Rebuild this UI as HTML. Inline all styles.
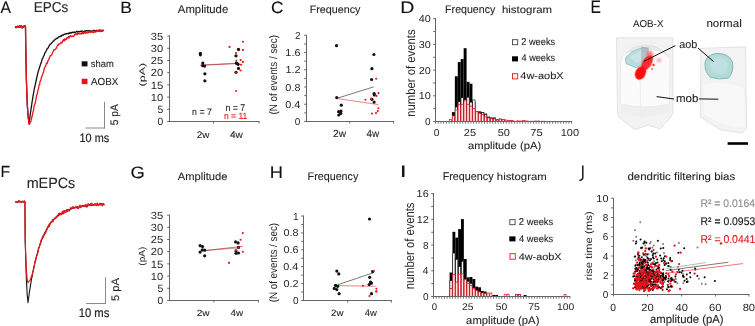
<!DOCTYPE html>
<html><head><meta charset="utf-8"><style>
html,body{margin:0;padding:0;background:#fff;}
body{width:755px;height:326px;overflow:hidden;}
svg{display:block;will-change:transform;text-rendering:geometricPrecision;font-family:"Liberation Sans", sans-serif;}
</style></head><body>
<svg width="755" height="326" viewBox="0 0 755 326">
<rect width="755" height="326" fill="#fff"/>
<text x="0.56" y="12.60" font-size="16.58" fill="#111" stroke="#111" stroke-width="0.1" textLength="10.47" lengthAdjust="spacingAndGlyphs">A</text>
<text x="120.26" y="12.50" font-size="16.44" fill="#111" stroke="#111" stroke-width="0.1" textLength="11.65" lengthAdjust="spacingAndGlyphs">B</text>
<text x="271.14" y="12.90" font-size="16.34" fill="#111" stroke="#111" stroke-width="0.1" textLength="12.45" lengthAdjust="spacingAndGlyphs">C</text>
<text x="400.28" y="12.90" font-size="16.58" fill="#111" stroke="#111" stroke-width="0.1" textLength="14.14" lengthAdjust="spacingAndGlyphs">D</text>
<text x="590.41" y="12.90" font-size="18.18" fill="#111" stroke="#111" stroke-width="0.1" textLength="10.45" lengthAdjust="spacingAndGlyphs">E</text>
<text x="0.50" y="177.10" font-size="16.15" fill="#111" stroke="#111" stroke-width="0.1" textLength="9.65" lengthAdjust="spacingAndGlyphs">F</text>
<text x="130.58" y="178.00" font-size="16.49" fill="#111" stroke="#111" stroke-width="0.1" textLength="14.31" lengthAdjust="spacingAndGlyphs">G</text>
<text x="269.89" y="177.70" font-size="16.58" fill="#111" stroke="#111" stroke-width="0.1" textLength="13.21" lengthAdjust="spacingAndGlyphs">H</text>
<text x="399.70" y="177.30" font-size="16.73" fill="#111" stroke="#111" stroke-width="0.1" textLength="6.91" lengthAdjust="spacingAndGlyphs">I</text>
<path d="M582.8,165.6 L582.8,177.3 Q582.8,180.3 579.4,180.3" fill="none" stroke="#111" stroke-width="1.45"/>
<polyline points="15.00,26.70 15.45,26.92 15.90,27.65 16.35,26.73 16.80,26.82 17.25,26.97 17.70,26.17 18.15,26.82 18.60,27.06 19.05,27.39 19.50,25.99 19.95,26.41 20.40,25.98 20.85,27.42 21.30,27.19 21.75,25.88 22.20,27.76 22.65,27.73 23.10,27.11 23.55,27.03 24.00,26.11 24.45,25.83 24.90,26.86 25.35,25.92 25.50,27.00 25.80,50.00 26.40,80.00 27.30,105.00 28.30,118.00 29.10,123.70 29.10,123.42 29.60,119.51 30.10,115.47 30.60,112.16 31.10,108.58 31.60,105.53 32.10,101.98 32.60,98.97 33.10,95.86 33.60,93.15 34.10,90.24 34.60,87.47 35.10,85.62 35.60,83.23 36.10,80.81 36.60,78.51 37.10,76.07 37.60,73.99 38.10,72.14 38.60,70.11 39.10,68.99 39.60,66.99 40.10,65.80 40.60,63.86 41.10,62.91 41.60,61.41 42.10,59.31 42.60,58.23 43.10,57.63 43.60,56.07 44.10,55.41 44.60,53.82 45.10,52.50 45.60,52.03 46.10,51.23 46.60,49.87 47.10,48.85 47.60,48.26 48.10,48.04 48.60,47.11 49.10,45.82 49.60,45.25 50.10,44.47 50.60,43.80 51.10,43.87 51.60,42.74 52.10,42.54 52.60,41.91 53.10,41.18 53.60,41.19 54.10,40.19 54.60,40.22 55.10,39.32 55.60,39.20 56.10,38.63 56.60,38.31 57.10,38.59 57.60,38.11 58.10,37.34 58.60,37.55 59.10,36.65 59.60,36.54 60.10,36.69 60.60,36.24 61.10,35.51 61.60,36.07 62.10,35.15 62.60,34.98 63.10,35.23 63.60,34.64 64.10,34.42 64.60,34.04 65.10,33.89 65.60,34.16 66.10,33.70 66.60,33.87 67.10,33.52 67.60,33.46 68.10,33.79 68.60,33.23 69.10,33.19 69.60,33.34 70.10,32.62 70.60,32.49 71.10,33.06 71.60,32.89 72.10,32.28 72.60,32.14 73.10,32.55 73.60,32.65 74.10,31.91 74.60,32.51 75.10,32.38 75.60,32.06 76.10,31.84 76.60,31.49 77.10,31.37 77.60,32.15 78.10,31.44 78.60,31.81 79.10,31.36 79.60,31.82 80.10,31.57 80.60,31.25 81.10,31.11 81.60,31.56 82.10,30.93 82.60,31.04 83.10,31.31 83.60,31.54 84.10,31.29 84.60,30.96 85.10,31.51 85.60,30.84 86.10,30.64 86.60,30.84 87.10,30.98 87.60,30.61 88.10,30.69 88.60,30.84 89.10,31.01 89.60,30.59 90.10,30.78 90.60,31.24 91.10,31.30 91.60,30.99 92.10,31.01 92.60,30.90 93.10,30.48 93.60,30.38 94.10,30.35 94.60,31.14 95.10,30.94 95.60,31.16 96.10,30.30 96.60,30.85 97.10,30.70 97.60,30.91 98.10,30.53 98.60,31.14 99.10,30.30 99.60,30.71 100.10,30.88 100.60,31.02 101.10,30.86 101.60,30.83 102.10,30.90 102.60,31.01 103.10,30.49 103.60,30.79" fill="none" stroke="#111" stroke-width="1.3" stroke-linejoin="round" />
<polyline points="15.00,26.70 15.45,26.92 15.90,27.65 16.35,26.73 16.80,26.82 17.25,26.97 17.70,26.17 18.15,26.82 18.60,27.06 19.05,27.39 19.50,25.99 19.95,26.41 20.40,25.98 20.85,27.42 21.30,27.19 21.75,25.88 22.20,27.76 22.65,27.73 23.10,27.11 23.55,27.03 24.00,26.11 24.45,25.83 24.90,26.86 25.35,25.92 25.50,27.00 25.80,50.00 26.40,80.00 27.30,105.00 28.30,118.00 29.10,123.70 29.10,124.37 29.60,124.20 30.10,122.46 30.60,122.06 31.10,120.65 31.60,118.18 32.10,116.27 32.60,113.59 33.10,111.81 33.60,109.59 34.10,106.14 34.60,105.08 35.10,103.58 35.60,101.09 36.10,98.55 36.60,95.64 37.10,94.30 37.60,91.90 38.10,89.58 38.60,88.51 39.10,84.96 39.60,84.59 40.10,81.22 40.60,80.75 41.10,78.82 41.60,76.65 42.10,76.11 42.60,74.15 43.10,72.94 43.60,72.20 44.10,69.36 44.60,67.50 45.10,66.85 45.60,66.44 46.10,64.19 46.60,62.96 47.10,63.46 47.60,61.83 48.10,60.30 48.60,60.28 49.10,58.06 49.60,57.85 50.10,55.91 50.60,55.53 51.10,55.50 51.60,54.91 52.10,54.04 52.60,52.18 53.10,51.87 53.60,50.56 54.10,49.46 54.60,49.58 55.10,49.67 55.60,49.07 56.10,48.16 56.60,48.09 57.10,46.04 57.60,45.25 58.10,45.34 58.60,44.44 59.10,43.81 59.60,43.77 60.10,43.77 60.60,43.03 61.10,42.20 61.60,42.93 62.10,42.84 62.60,41.28 63.10,40.07 63.60,39.61 64.10,41.11 64.60,38.93 65.10,40.07 65.60,39.45 66.10,38.56 66.60,39.32 67.10,37.33 67.60,37.31 68.10,37.74 68.60,36.54 69.10,38.05 69.60,36.51 70.10,36.06 70.60,35.62 71.10,36.68 71.60,36.07 72.10,36.27 72.60,36.12 73.10,36.26 73.60,36.41 74.10,35.63 74.60,34.39 75.10,34.82 75.60,34.01 76.10,33.48 76.60,34.35 77.10,34.73 77.60,33.41 78.10,33.48 78.60,33.51 79.10,34.15 79.60,33.64 80.10,33.73 80.60,33.92 81.10,33.01 81.60,33.78 82.10,33.93 82.60,32.03 83.10,33.79 83.60,33.23 84.10,31.84 84.60,32.46 85.10,32.75 85.60,33.30 86.10,32.04 86.60,32.39 87.10,33.00 87.60,32.74 88.10,33.00 88.60,31.87 89.10,32.22 89.60,31.18 90.10,32.25 90.60,32.41 91.10,31.96 91.60,32.07 92.10,30.91 92.60,32.37 93.10,32.50 93.60,32.44 94.10,31.43 94.60,31.94 95.10,30.86 95.60,32.12 96.10,31.96 96.60,30.80 97.10,30.18 97.60,30.93 98.10,31.14 98.60,31.58 99.10,30.93 99.60,29.89 100.10,31.58 100.60,29.91 101.10,31.50 101.60,30.09 102.10,30.42 102.60,31.39 103.10,29.94 103.60,29.93" fill="none" stroke="#e8141b" stroke-width="1.3" stroke-linejoin="round" />
<text x="33.68" y="11.60" font-size="14.37" fill="#262626" stroke="#262626" stroke-width="0.1" textLength="34.61" lengthAdjust="spacingAndGlyphs">EPCs</text>
<rect x="81.7" y="61.3" width="5.8" height="5.1" fill="#111"/>
<text x="90.74" y="66.90" font-size="9.62" fill="#262626" stroke="#262626" stroke-width="0.1" textLength="23.08" lengthAdjust="spacingAndGlyphs">sham</text>
<rect x="81.7" y="78.7" width="5.8" height="5.4" fill="#e8141b"/>
<text x="90.98" y="84.80" font-size="10.18" fill="#262626" stroke="#262626" stroke-width="0.1" textLength="27.33" lengthAdjust="spacingAndGlyphs">AOBX</text>
<line x1="104.5" y1="101.9" x2="104.5" y2="128.5" stroke="#8a8a8a" stroke-width="1" />
<line x1="85.4" y1="128.0" x2="105" y2="128.0" stroke="#8a8a8a" stroke-width="1" />
<text transform="translate(118.49,125.31) rotate(-90)" x="0" y="0" font-size="10.90" fill="#262626" stroke="#262626" stroke-width="0.12" textLength="21.13" lengthAdjust="spacingAndGlyphs">5 pA</text>
<text x="79.59" y="141.80" font-size="12.19" fill="#262626" stroke="#262626" stroke-width="0.2" textLength="29.50" lengthAdjust="spacingAndGlyphs">10 ms</text>
<polyline points="15.30,201.63 15.75,202.00 16.20,202.21 16.65,201.94 17.10,202.40 17.55,201.59 18.00,202.41 18.45,200.85 18.90,201.10 19.35,201.65 19.80,201.22 20.25,202.01 20.70,201.85 21.15,201.64 21.60,202.22 22.05,201.71 22.50,201.26 22.95,201.39 23.40,202.22 23.85,202.32 24.30,201.07 24.75,202.23 24.90,201.50 25.20,240.00 26.20,275.00 27.20,295.00 28.00,302.20 28.00,302.75 28.50,298.72 29.00,295.23 29.50,291.54 30.00,288.55 30.50,285.40 31.00,282.48 31.50,279.14 32.00,277.13 32.50,274.10 33.00,271.46 33.50,269.32 34.00,266.77 34.50,264.45 35.00,262.43 35.50,259.83 36.00,258.20 36.50,256.16 37.00,254.73 37.50,252.91 38.00,250.66 38.50,249.17 39.00,247.30 39.50,246.01 40.00,244.83 40.50,243.48 41.00,241.77 41.50,240.33 42.00,238.96 42.50,238.07 43.00,237.14 43.50,235.37 44.00,234.80 44.50,233.14 45.00,232.26 45.50,231.31 46.00,230.74 46.50,229.54 47.00,228.69 47.50,228.06 48.00,226.83 48.50,226.55 49.00,225.30 49.50,224.88 50.00,223.97 50.50,223.25 51.00,222.86 51.50,222.15 52.00,221.49 52.50,220.93 53.00,220.45 53.50,219.61 54.00,219.11 54.50,218.94 55.00,218.45 55.50,217.89 56.00,217.68 56.50,217.05 57.00,216.81 57.50,215.89 58.00,215.90 58.50,215.57 59.00,215.26 59.50,214.43 60.00,214.08 60.50,214.22 61.00,213.33 61.50,213.64 62.00,213.24 62.50,212.34 63.00,212.14 63.50,212.25 64.00,211.61 64.50,211.22 65.00,211.55 65.50,210.98 66.00,211.04 66.50,210.28 67.00,210.28 67.50,210.29 68.00,209.55 68.50,209.49 69.00,209.69 69.50,209.68 70.00,209.54 70.50,208.68 71.00,208.83 71.50,208.86 72.00,208.50 72.50,208.49 73.00,207.94 73.50,207.70 74.00,207.59 74.50,207.39 75.00,207.67 75.50,207.51 76.00,207.43 76.50,206.97 77.00,206.89 77.50,206.79 78.00,207.19 78.50,207.20 79.00,207.05 79.50,206.28 80.00,206.16 80.50,206.77 81.00,206.29 81.50,206.44 82.00,206.01 82.50,206.04 83.00,205.99 83.50,205.85 84.00,205.91 84.50,205.36 85.00,205.84 85.50,205.89 86.00,205.29 86.50,205.44 87.00,205.60 87.50,205.27 88.00,205.05 88.50,204.96 89.00,205.19 89.50,204.73 90.00,205.38 90.50,205.26 91.00,205.13 91.50,205.21 92.00,204.97 92.50,204.75 93.00,204.86 93.50,204.74 94.00,205.08 94.50,204.90 95.00,204.42 95.50,204.90 96.00,204.73 96.50,204.72 97.00,204.72 97.50,204.36 98.00,204.72 98.50,204.67 99.00,204.49 99.50,204.52 100.00,204.49 100.50,204.17 101.00,204.40 101.50,203.85 102.00,204.04 102.50,204.11 103.00,203.72 103.50,203.97 104.00,204.18 104.50,204.14" fill="none" stroke="#111" stroke-width="1.1" stroke-linejoin="round" />
<polyline points="15.30,201.63 15.75,202.00 16.20,202.21 16.65,201.94 17.10,202.40 17.55,201.59 18.00,202.41 18.45,200.85 18.90,201.10 19.35,201.65 19.80,201.22 20.25,202.01 20.70,201.85 21.15,201.64 21.60,202.22 22.05,201.71 22.50,201.26 22.95,201.39 23.40,202.22 23.85,202.32 24.30,201.07 24.75,202.23 24.90,201.50 25.20,240.00 26.20,268.00 27.20,280.00 28.00,282.80 28.00,281.89 30.00,280.51 32.00,275.06 33.50,269.45 34.00,267.27 34.50,264.69 35.00,262.39 35.50,259.80 36.00,259.87 36.50,256.71 37.00,255.05 37.50,253.46 38.00,252.48 38.50,247.57 39.00,247.99 39.50,246.87 40.00,243.75 40.50,242.83 41.00,240.26 41.50,239.44 42.00,238.78 42.50,236.62 43.00,235.96 43.50,237.05 44.00,234.75 44.50,233.55 45.00,234.10 45.50,231.76 46.00,232.27 46.50,230.15 47.00,229.86 47.50,226.52 48.00,227.48 48.50,227.24 49.00,224.06 49.50,226.34 50.00,223.01 50.50,223.39 51.00,221.71 51.50,222.19 52.00,221.97 52.50,219.50 53.00,221.95 53.50,219.61 54.00,219.44 54.50,219.17 55.00,217.89 55.50,217.14 56.00,217.93 56.50,217.16 57.00,215.79 57.50,216.85 58.00,215.01 58.50,213.66 59.00,214.07 59.50,213.02 60.00,213.06 60.50,214.75 61.00,213.18 61.50,214.59 62.00,213.78 62.50,211.10 63.00,214.01 63.50,213.58 64.00,210.35 64.50,212.92 65.00,211.05 65.50,210.97 66.00,212.41 66.50,209.71 67.00,210.44 67.50,211.63 68.00,210.69 68.50,209.63 69.00,211.17 69.50,210.43 70.00,209.52 70.50,207.68 71.00,209.24 71.50,208.50 72.00,207.49 72.50,206.82 73.00,208.28 73.50,206.77 74.00,207.71 74.50,208.34 75.00,207.48 75.50,206.69 76.00,207.66 76.50,206.98 77.00,208.08 77.50,207.13 78.00,208.61 78.50,208.35 79.00,207.50 79.50,205.72 80.00,205.19 80.50,207.75 81.00,207.29 81.50,206.66 82.00,205.67 82.50,205.28 83.00,206.61 83.50,206.12 84.00,206.14 84.50,206.20 85.00,206.54 85.50,204.56 86.00,204.69 86.50,207.11 87.00,206.83 87.50,206.64 88.00,203.72 88.50,203.74 89.00,204.40 89.50,204.87 90.00,205.49 90.50,203.66 91.00,205.11 91.50,203.46 92.00,203.46 92.50,205.42 93.00,204.95 93.50,205.18 94.00,204.26 94.50,204.58 95.00,203.63 95.50,204.04 96.00,205.37 96.50,205.65 97.00,203.02 97.50,203.14 98.00,205.45 98.50,204.79 99.00,205.25 99.50,203.33 100.00,204.02 100.50,203.42 101.00,205.27 101.50,203.74 102.00,204.69 102.50,205.80 103.00,203.52 103.50,204.25 104.00,204.90 104.50,205.47" fill="none" stroke="#e8141b" stroke-width="1.2" stroke-linejoin="round" />
<text x="26.63" y="188.30" font-size="14.85" fill="#262626" stroke="#262626" stroke-width="0.1" textLength="48.66" lengthAdjust="spacingAndGlyphs">mEPCs</text>
<line x1="105.5" y1="277.3" x2="105.5" y2="303.8" stroke="#8a8a8a" stroke-width="1" />
<line x1="86" y1="303.5" x2="106" y2="303.5" stroke="#8a8a8a" stroke-width="1" />
<text transform="translate(118.99,301.05) rotate(-90)" x="0" y="0" font-size="10.90" fill="#262626" stroke="#262626" stroke-width="0.12" textLength="23.07" lengthAdjust="spacingAndGlyphs">5 pA</text>
<text x="78.65" y="317.30" font-size="12.50" fill="#262626" stroke="#262626" stroke-width="0.2" textLength="30.75" lengthAdjust="spacingAndGlyphs">10 ms</text>
<line x1="169.5" y1="35.5" x2="169.5" y2="122.0" stroke="#666666" stroke-width="1" />
<line x1="167.2" y1="121.5" x2="170.0" y2="121.5" stroke="#666666" stroke-width="1" />
<line x1="167.2" y1="109.3" x2="170.0" y2="109.3" stroke="#666666" stroke-width="1" />
<line x1="167.2" y1="97.1" x2="170.0" y2="97.1" stroke="#666666" stroke-width="1" />
<line x1="167.2" y1="84.9" x2="170.0" y2="84.9" stroke="#666666" stroke-width="1" />
<line x1="167.2" y1="72.7" x2="170.0" y2="72.7" stroke="#666666" stroke-width="1" />
<line x1="167.2" y1="60.5" x2="170.0" y2="60.5" stroke="#666666" stroke-width="1" />
<line x1="167.2" y1="48.30000000000001" x2="170.0" y2="48.30000000000001" stroke="#666666" stroke-width="1" />
<line x1="167.2" y1="36.10000000000001" x2="170.0" y2="36.10000000000001" stroke="#666666" stroke-width="1" />
<text x="157.46" y="125.10" font-size="10.32" fill="#262626" textLength="5.74" lengthAdjust="spacingAndGlyphs">0</text>
<text x="157.41" y="112.90" font-size="10.47" fill="#262626" textLength="5.82" lengthAdjust="spacingAndGlyphs">5</text>
<text x="150.84" y="100.70" font-size="10.32" fill="#262626" textLength="12.40" lengthAdjust="spacingAndGlyphs">10</text>
<text x="150.70" y="88.50" font-size="10.47" fill="#262626" textLength="12.58" lengthAdjust="spacingAndGlyphs">15</text>
<text x="150.84" y="76.30" font-size="10.32" fill="#262626" textLength="12.40" lengthAdjust="spacingAndGlyphs">20</text>
<text x="150.87" y="64.10" font-size="10.32" fill="#262626" textLength="12.40" lengthAdjust="spacingAndGlyphs">25</text>
<text x="150.84" y="51.90" font-size="10.32" fill="#262626" textLength="12.40" lengthAdjust="spacingAndGlyphs">30</text>
<text x="150.87" y="39.70" font-size="10.32" fill="#262626" textLength="12.40" lengthAdjust="spacingAndGlyphs">35</text>
<line x1="169" y1="121.5" x2="259.5" y2="121.5" stroke="#666666" stroke-width="1" />
<line x1="213.5" y1="121.5" x2="213.5" y2="123.5" stroke="#666666" stroke-width="1" />
<line x1="259" y1="121.5" x2="259" y2="123.5" stroke="#666666" stroke-width="1" />
<text x="196.80" y="137.50" font-size="9.53" fill="#262626" stroke="#262626" stroke-width="0.1" textLength="12.68" lengthAdjust="spacingAndGlyphs">2w</text>
<text x="229.97" y="137.50" font-size="9.67" fill="#262626" stroke="#262626" stroke-width="0.1" textLength="12.91" lengthAdjust="spacingAndGlyphs">4w</text>
<text transform="translate(144.63,86.38) rotate(-90)" x="0" y="0" font-size="8.18" fill="#262626" textLength="23.69" lengthAdjust="spacingAndGlyphs">(pA)</text>
<text x="177.87" y="12.90" font-size="11.32" fill="#262626" stroke="#262626" stroke-width="0.1" textLength="50.33" lengthAdjust="spacingAndGlyphs">Amplitude</text>
<text x="192.11" y="114.90" font-size="9.51" fill="#262626" stroke="#262626" stroke-width="0.1" textLength="19.75" lengthAdjust="spacingAndGlyphs">n = 7</text>
<text x="225.40" y="110.70" font-size="9.67" fill="#262626" stroke="#262626" stroke-width="0.1" textLength="19.85" lengthAdjust="spacingAndGlyphs">n = 7</text>
<text x="223.92" y="119.20" font-size="9.04" fill="#e8141b" stroke="#e8141b" stroke-width="0.1" textLength="23.50" lengthAdjust="spacingAndGlyphs">n = 11</text>
<line x1="200.5" y1="65.4" x2="236.2" y2="63.6" stroke="#e04048" stroke-width="0.8" />
<line x1="200.5" y1="65.0" x2="236.2" y2="63.2" stroke="#552222" stroke-width="0.4" />
<circle cx="200.4" cy="53.3" r="1.6" fill="#111"/>
<circle cx="200.4" cy="54.8" r="1.6" fill="#111"/>
<circle cx="202.8" cy="63.1" r="1.6" fill="#111"/>
<circle cx="202.6" cy="65.6" r="1.6" fill="#111"/>
<circle cx="204.6" cy="66.1" r="1.6" fill="#111"/>
<circle cx="204.9" cy="73.8" r="1.6" fill="#111"/>
<circle cx="204.9" cy="80.8" r="1.6" fill="#111"/>
<circle cx="238.5" cy="49.4" r="1.6" fill="#111"/>
<circle cx="236.0" cy="55.8" r="1.6" fill="#111"/>
<circle cx="236.3" cy="63.1" r="1.6" fill="#111"/>
<circle cx="238.1" cy="64.3" r="1.6" fill="#111"/>
<circle cx="238.5" cy="68.4" r="1.6" fill="#111"/>
<circle cx="236.0" cy="72.3" r="1.6" fill="#111"/>
<circle cx="237.0" cy="63.5" r="1.6" fill="#111"/>
<circle cx="229.5" cy="46.9" r="1.05" fill="#e8141b"/>
<circle cx="243.0" cy="41.7" r="1.05" fill="#e8141b"/>
<circle cx="243.0" cy="49.9" r="1.05" fill="#e8141b"/>
<circle cx="236.0" cy="53.1" r="1.05" fill="#e8141b"/>
<circle cx="236.3" cy="60.7" r="1.05" fill="#e8141b"/>
<circle cx="240.6" cy="60.1" r="1.05" fill="#e8141b"/>
<circle cx="243.0" cy="61.9" r="1.05" fill="#e8141b"/>
<circle cx="241.0" cy="64.7" r="1.05" fill="#e8141b"/>
<circle cx="240.6" cy="70.5" r="1.05" fill="#e8141b"/>
<circle cx="236.0" cy="72.7" r="1.05" fill="#e8141b"/>
<circle cx="236.2" cy="91.0" r="1.05" fill="#e8141b"/>
<line x1="169.5" y1="215.0" x2="169.5" y2="301.0" stroke="#666666" stroke-width="1" />
<line x1="167.2" y1="300.5" x2="170.0" y2="300.5" stroke="#666666" stroke-width="1" />
<line x1="167.2" y1="288.3" x2="170.0" y2="288.3" stroke="#666666" stroke-width="1" />
<line x1="167.2" y1="276.1" x2="170.0" y2="276.1" stroke="#666666" stroke-width="1" />
<line x1="167.2" y1="263.9" x2="170.0" y2="263.9" stroke="#666666" stroke-width="1" />
<line x1="167.2" y1="251.7" x2="170.0" y2="251.7" stroke="#666666" stroke-width="1" />
<line x1="167.2" y1="239.5" x2="170.0" y2="239.5" stroke="#666666" stroke-width="1" />
<line x1="167.2" y1="227.3" x2="170.0" y2="227.3" stroke="#666666" stroke-width="1" />
<line x1="167.2" y1="215.10000000000002" x2="170.0" y2="215.10000000000002" stroke="#666666" stroke-width="1" />
<text x="157.46" y="304.10" font-size="10.32" fill="#262626" textLength="5.74" lengthAdjust="spacingAndGlyphs">0</text>
<text x="157.41" y="291.90" font-size="10.47" fill="#262626" textLength="5.82" lengthAdjust="spacingAndGlyphs">5</text>
<text x="150.84" y="279.70" font-size="10.32" fill="#262626" textLength="12.40" lengthAdjust="spacingAndGlyphs">10</text>
<text x="150.70" y="267.50" font-size="10.47" fill="#262626" textLength="12.58" lengthAdjust="spacingAndGlyphs">15</text>
<text x="150.84" y="255.30" font-size="10.32" fill="#262626" textLength="12.40" lengthAdjust="spacingAndGlyphs">20</text>
<text x="150.87" y="243.10" font-size="10.32" fill="#262626" textLength="12.40" lengthAdjust="spacingAndGlyphs">25</text>
<text x="150.84" y="230.90" font-size="10.32" fill="#262626" textLength="12.40" lengthAdjust="spacingAndGlyphs">30</text>
<text x="150.87" y="218.70" font-size="10.32" fill="#262626" textLength="12.40" lengthAdjust="spacingAndGlyphs">35</text>
<line x1="169" y1="300.5" x2="258.9" y2="300.5" stroke="#666666" stroke-width="1" />
<line x1="213.9" y1="300.5" x2="213.9" y2="302.5" stroke="#666666" stroke-width="1" />
<line x1="258.4" y1="300.5" x2="258.4" y2="302.5" stroke="#666666" stroke-width="1" />
<text x="196.70" y="315.70" font-size="9.06" fill="#262626" stroke="#262626" stroke-width="0.1" textLength="12.89" lengthAdjust="spacingAndGlyphs">2w</text>
<text x="230.48" y="315.70" font-size="9.20" fill="#262626" stroke="#262626" stroke-width="0.1" textLength="12.61" lengthAdjust="spacingAndGlyphs">4w</text>
<text transform="translate(145.00,265.73) rotate(-90)" x="0" y="0" font-size="8.97" fill="#262626" textLength="19.08" lengthAdjust="spacingAndGlyphs">(pA)</text>
<text x="177.87" y="179.90" font-size="10.73" fill="#262626" stroke="#262626" stroke-width="0.1" textLength="49.62" lengthAdjust="spacingAndGlyphs">Amplitude</text>
<line x1="202.3" y1="250.9" x2="242.8" y2="246.3" stroke="#e04048" stroke-width="0.8" />
<line x1="202.3" y1="250.6" x2="237.9" y2="248.1" stroke="#552222" stroke-width="0.4" />
<circle cx="200.1" cy="245.7" r="1.6" fill="#111"/>
<circle cx="202.5" cy="246.6" r="1.6" fill="#111"/>
<circle cx="202.3" cy="249.9" r="1.6" fill="#111"/>
<circle cx="204.7" cy="250.2" r="1.6" fill="#111"/>
<circle cx="200.1" cy="252.1" r="1.6" fill="#111"/>
<circle cx="204.7" cy="255.8" r="1.6" fill="#111"/>
<circle cx="235.6" cy="241.9" r="1.6" fill="#111"/>
<circle cx="238.1" cy="242.9" r="1.6" fill="#111"/>
<circle cx="238.5" cy="247.4" r="1.6" fill="#111"/>
<circle cx="236.0" cy="250.9" r="1.6" fill="#111"/>
<circle cx="236.0" cy="253.3" r="1.6" fill="#111"/>
<circle cx="238.5" cy="253.0" r="1.6" fill="#111"/>
<circle cx="242.8" cy="233.1" r="1.05" fill="#e8141b"/>
<circle cx="240.6" cy="239.8" r="1.05" fill="#e8141b"/>
<circle cx="242.8" cy="251.8" r="1.05" fill="#e8141b"/>
<circle cx="229.0" cy="262.9" r="1.05" fill="#e8141b"/>
<circle cx="236.0" cy="250.6" r="1.05" fill="#e8141b"/>
<circle cx="238.5" cy="247.2" r="1.05" fill="#e8141b"/>
<line x1="306.5" y1="35.3" x2="306.5" y2="122.0" stroke="#666666" stroke-width="1" />
<line x1="304.2" y1="121.5" x2="307.0" y2="121.5" stroke="#666666" stroke-width="1" />
<line x1="304.2" y1="104.25" x2="307.0" y2="104.25" stroke="#666666" stroke-width="1" />
<line x1="304.2" y1="87.0" x2="307.0" y2="87.0" stroke="#666666" stroke-width="1" />
<line x1="304.2" y1="69.75" x2="307.0" y2="69.75" stroke="#666666" stroke-width="1" />
<line x1="304.2" y1="52.5" x2="307.0" y2="52.5" stroke="#666666" stroke-width="1" />
<line x1="304.2" y1="35.25" x2="307.0" y2="35.25" stroke="#666666" stroke-width="1" />
<line x1="304.2" y1="112.875" x2="307.0" y2="112.875" stroke="#666666" stroke-width="1" />
<line x1="304.2" y1="95.625" x2="307.0" y2="95.625" stroke="#666666" stroke-width="1" />
<line x1="304.2" y1="78.375" x2="307.0" y2="78.375" stroke="#666666" stroke-width="1" />
<line x1="304.2" y1="61.125" x2="307.0" y2="61.125" stroke="#666666" stroke-width="1" />
<line x1="304.2" y1="43.875" x2="307.0" y2="43.875" stroke="#666666" stroke-width="1" />
<text x="294.81" y="125.00" font-size="10.04" fill="#262626" textLength="5.58" lengthAdjust="spacingAndGlyphs">0</text>
<text x="285.23" y="107.75" font-size="10.04" fill="#262626" textLength="15.07" lengthAdjust="spacingAndGlyphs">0.4</text>
<text x="285.39" y="90.50" font-size="10.04" fill="#262626" textLength="15.07" lengthAdjust="spacingAndGlyphs">0.8</text>
<text x="285.48" y="73.25" font-size="10.04" fill="#262626" textLength="15.07" lengthAdjust="spacingAndGlyphs">1.2</text>
<text x="285.39" y="56.00" font-size="10.04" fill="#262626" textLength="15.07" lengthAdjust="spacingAndGlyphs">1.6</text>
<text x="294.93" y="38.75" font-size="10.04" fill="#262626" textLength="5.58" lengthAdjust="spacingAndGlyphs">2</text>
<line x1="306" y1="121.5" x2="394" y2="121.5" stroke="#666666" stroke-width="1" />
<line x1="349.8" y1="121.5" x2="349.8" y2="123.5" stroke="#666666" stroke-width="1" />
<line x1="393.6" y1="121.5" x2="393.6" y2="123.5" stroke="#666666" stroke-width="1" />
<text x="332.99" y="137.20" font-size="10.31" fill="#262626" stroke="#262626" stroke-width="0.1" textLength="12.99" lengthAdjust="spacingAndGlyphs">2w</text>
<text x="366.38" y="137.20" font-size="10.46" fill="#262626" stroke="#262626" stroke-width="0.1" textLength="12.71" lengthAdjust="spacingAndGlyphs">4w</text>
<text transform="translate(276.71,114.61) rotate(-90)" x="0" y="0" font-size="10.91" fill="#262626" textLength="79.54" lengthAdjust="spacingAndGlyphs">(N of events / sec)</text>
<text x="309.71" y="12.90" font-size="10.68" fill="#262626" stroke="#262626" stroke-width="0.1" textLength="50.71" lengthAdjust="spacingAndGlyphs">Frequency</text>
<line x1="337" y1="98.3" x2="373.6" y2="86.9" stroke="#222" stroke-width="0.6" />
<line x1="337" y1="98.5" x2="378.5" y2="104.6" stroke="#ec4a50" stroke-width="0.7" />
<circle cx="336.5" cy="45.7" r="1.6" fill="#111"/>
<circle cx="336.7" cy="97.6" r="1.6" fill="#111"/>
<circle cx="341.3" cy="105.2" r="1.6" fill="#111"/>
<circle cx="341.0" cy="111.1" r="1.6" fill="#111"/>
<circle cx="338.6" cy="111.7" r="1.6" fill="#111"/>
<circle cx="340.8" cy="113.4" r="1.6" fill="#111"/>
<circle cx="338.8" cy="115.0" r="1.6" fill="#111"/>
<circle cx="373.9" cy="54.5" r="1.6" fill="#111"/>
<circle cx="371.9" cy="68.7" r="1.6" fill="#111"/>
<circle cx="371.6" cy="79.5" r="1.6" fill="#111"/>
<circle cx="374.1" cy="93.5" r="1.6" fill="#111"/>
<circle cx="374.3" cy="94.9" r="1.6" fill="#111"/>
<circle cx="371.9" cy="99.3" r="1.6" fill="#111"/>
<circle cx="374.1" cy="102.1" r="1.6" fill="#111"/>
<circle cx="376.2" cy="78.7" r="1.05" fill="#e8141b"/>
<circle cx="378.5" cy="93.1" r="1.05" fill="#e8141b"/>
<circle cx="376.4" cy="95.9" r="1.05" fill="#e8141b"/>
<circle cx="365.4" cy="99.8" r="1.05" fill="#e8141b"/>
<circle cx="371.3" cy="98.6" r="1.05" fill="#e8141b"/>
<circle cx="378.5" cy="108.3" r="1.05" fill="#e8141b"/>
<circle cx="377.8" cy="111.1" r="1.05" fill="#e8141b"/>
<circle cx="376.0" cy="113.1" r="1.05" fill="#e8141b"/>
<circle cx="371.9" cy="113.6" r="1.05" fill="#e8141b"/>
<line x1="303.5" y1="215.8" x2="303.5" y2="301.0" stroke="#666666" stroke-width="1" />
<line x1="301.2" y1="300.5" x2="304.0" y2="300.5" stroke="#666666" stroke-width="1" />
<line x1="301.2" y1="283.6" x2="304.0" y2="283.6" stroke="#666666" stroke-width="1" />
<line x1="301.2" y1="266.7" x2="304.0" y2="266.7" stroke="#666666" stroke-width="1" />
<line x1="301.2" y1="249.8" x2="304.0" y2="249.8" stroke="#666666" stroke-width="1" />
<line x1="301.2" y1="232.9" x2="304.0" y2="232.9" stroke="#666666" stroke-width="1" />
<line x1="301.2" y1="216.0" x2="304.0" y2="216.0" stroke="#666666" stroke-width="1" />
<line x1="301.2" y1="292.05" x2="304.0" y2="292.05" stroke="#666666" stroke-width="1" />
<line x1="301.2" y1="275.15000000000003" x2="304.0" y2="275.15000000000003" stroke="#666666" stroke-width="1" />
<line x1="301.2" y1="258.25" x2="304.0" y2="258.25" stroke="#666666" stroke-width="1" />
<line x1="301.2" y1="241.35000000000002" x2="304.0" y2="241.35000000000002" stroke="#666666" stroke-width="1" />
<line x1="301.2" y1="224.45000000000002" x2="304.0" y2="224.45000000000002" stroke="#666666" stroke-width="1" />
<text x="292.91" y="304.00" font-size="10.04" fill="#262626" textLength="5.58" lengthAdjust="spacingAndGlyphs">0</text>
<text x="283.58" y="287.10" font-size="10.04" fill="#262626" textLength="15.07" lengthAdjust="spacingAndGlyphs">0.2</text>
<text x="283.33" y="270.20" font-size="10.04" fill="#262626" textLength="15.07" lengthAdjust="spacingAndGlyphs">0.4</text>
<text x="283.49" y="253.30" font-size="10.04" fill="#262626" textLength="15.07" lengthAdjust="spacingAndGlyphs">0.6</text>
<text x="283.49" y="236.40" font-size="10.04" fill="#262626" textLength="15.07" lengthAdjust="spacingAndGlyphs">0.8</text>
<text x="292.93" y="219.50" font-size="10.18" fill="#262626" textLength="5.66" lengthAdjust="spacingAndGlyphs">1</text>
<line x1="303" y1="300.5" x2="391.9" y2="300.5" stroke="#666666" stroke-width="1" />
<line x1="347.7" y1="300.5" x2="347.7" y2="302.5" stroke="#666666" stroke-width="1" />
<line x1="391.4" y1="300.5" x2="391.4" y2="302.5" stroke="#666666" stroke-width="1" />
<text x="331.02" y="315.80" font-size="9.22" fill="#262626" stroke="#262626" stroke-width="0.1" textLength="12.37" lengthAdjust="spacingAndGlyphs">2w</text>
<text x="364.69" y="315.80" font-size="9.35" fill="#262626" stroke="#262626" stroke-width="0.1" textLength="12.10" lengthAdjust="spacingAndGlyphs">4w</text>
<text transform="translate(276.81,302.31) rotate(-90)" x="0" y="0" font-size="10.91" fill="#262626" textLength="79.34" lengthAdjust="spacingAndGlyphs">(N of events / sec)</text>
<text x="307.61" y="179.70" font-size="11.00" fill="#262626" stroke="#262626" stroke-width="0.1" textLength="50.71" lengthAdjust="spacingAndGlyphs">Frequency</text>
<line x1="336" y1="285.4" x2="373.1" y2="272.8" stroke="#222" stroke-width="0.6" />
<line x1="336" y1="285.6" x2="375.6" y2="286.3" stroke="#ec4a50" stroke-width="0.7" />
<circle cx="336.8" cy="271.1" r="1.6" fill="#111"/>
<circle cx="338.8" cy="273.9" r="1.6" fill="#111"/>
<circle cx="335.5" cy="285.4" r="1.6" fill="#111"/>
<circle cx="337.6" cy="286.3" r="1.6" fill="#111"/>
<circle cx="334.3" cy="288.4" r="1.6" fill="#111"/>
<circle cx="336.8" cy="289.6" r="1.6" fill="#111"/>
<circle cx="339.1" cy="293.7" r="1.6" fill="#111"/>
<circle cx="369.5" cy="219.0" r="1.6" fill="#111"/>
<circle cx="372.6" cy="271.6" r="1.6" fill="#111"/>
<circle cx="369.7" cy="277.3" r="1.6" fill="#111"/>
<circle cx="370.5" cy="282.0" r="1.6" fill="#111"/>
<circle cx="369.2" cy="284.6" r="1.6" fill="#111"/>
<circle cx="371.4" cy="283.2" r="1.6" fill="#111"/>
<circle cx="371.5" cy="293.7" r="1.6" fill="#111"/>
<circle cx="373.9" cy="271.1" r="1.05" fill="#e8141b"/>
<circle cx="362.9" cy="285.8" r="1.05" fill="#e8141b"/>
<circle cx="376.4" cy="288.8" r="1.05" fill="#e8141b"/>
<circle cx="376.4" cy="291.3" r="1.05" fill="#e8141b"/>
<circle cx="369.5" cy="296.0" r="1.05" fill="#e8141b"/>
<circle cx="376.2" cy="291.6" r="1.05" fill="#e8141b"/>
<rect x="451.93" y="112.10" width="2.93" height="9.40" fill="#000"/>
<rect x="454.86" y="76.30" width="2.93" height="45.20" fill="#000"/>
<rect x="457.79" y="62.10" width="2.93" height="59.40" fill="#000"/>
<rect x="460.72" y="59.10" width="2.93" height="62.40" fill="#000"/>
<rect x="463.65" y="48.20" width="2.93" height="73.30" fill="#000"/>
<rect x="466.58" y="81.80" width="2.93" height="39.70" fill="#000"/>
<rect x="469.51" y="83.70" width="2.93" height="37.80" fill="#000"/>
<rect x="472.44" y="101.20" width="2.93" height="20.30" fill="#000"/>
<rect x="475.37" y="111.40" width="2.93" height="10.10" fill="#000"/>
<rect x="478.30" y="111.40" width="2.93" height="10.10" fill="#000"/>
<rect x="481.23" y="112.30" width="2.93" height="9.20" fill="#000"/>
<rect x="484.16" y="113.60" width="2.93" height="7.90" fill="#000"/>
<rect x="487.09" y="116.60" width="2.93" height="4.90" fill="#000"/>
<rect x="490.02" y="117.50" width="2.93" height="4.00" fill="#000"/>
<rect x="492.95" y="117.50" width="2.93" height="4.00" fill="#000"/>
<rect x="495.88" y="119.60" width="2.93" height="1.90" fill="#000"/>
<rect x="498.81" y="118.70" width="2.93" height="2.80" fill="#000"/>
<rect x="501.74" y="119.20" width="2.93" height="2.30" fill="#000"/>
<rect x="504.67" y="120.20" width="2.93" height="1.30" fill="#000"/>
<rect x="507.60" y="120.90" width="2.93" height="0.60" fill="#000"/>
<rect x="510.53" y="120.50" width="2.93" height="1.00" fill="#000"/>
<rect x="513.46" y="121.00" width="2.93" height="0.50" fill="#000"/>
<rect x="516.39" y="121.00" width="2.93" height="0.50" fill="#000"/>
<rect x="455.16" y="107.00" width="2.33" height="14.50" fill="#fff" stroke="#000" stroke-width="0.6"/>
<rect x="458.09" y="101.60" width="2.33" height="19.90" fill="#fff" stroke="#000" stroke-width="0.6"/>
<rect x="461.02" y="97.70" width="2.33" height="23.80" fill="#fff" stroke="#000" stroke-width="0.6"/>
<rect x="463.95" y="99.70" width="2.33" height="21.80" fill="#fff" stroke="#000" stroke-width="0.6"/>
<rect x="466.88" y="97.20" width="2.33" height="24.30" fill="#fff" stroke="#000" stroke-width="0.6"/>
<rect x="469.81" y="102.10" width="2.33" height="19.40" fill="#fff" stroke="#000" stroke-width="0.6"/>
<rect x="472.74" y="99.90" width="2.33" height="21.60" fill="#fff" stroke="#000" stroke-width="0.6"/>
<rect x="475.67" y="111.90" width="2.33" height="9.60" fill="#fff" stroke="#000" stroke-width="0.6"/>
<rect x="478.60" y="112.30" width="2.33" height="9.20" fill="#fff" stroke="#000" stroke-width="0.6"/>
<rect x="481.53" y="112.60" width="2.33" height="8.90" fill="#fff" stroke="#000" stroke-width="0.6"/>
<rect x="484.46" y="114.30" width="2.33" height="7.20" fill="#fff" stroke="#000" stroke-width="0.6"/>
<rect x="487.39" y="117.30" width="2.33" height="4.20" fill="#fff" stroke="#000" stroke-width="0.6"/>
<rect x="490.32" y="118.30" width="2.33" height="3.20" fill="#fff" stroke="#000" stroke-width="0.6"/>
<rect x="493.25" y="118.30" width="2.33" height="3.20" fill="#fff" stroke="#000" stroke-width="0.6"/>
<rect x="496.18" y="119.90" width="2.33" height="1.60" fill="#fff" stroke="#000" stroke-width="0.6"/>
<rect x="449.40" y="119.40" width="2.13" height="2.10" fill="#fbd0d0" stroke="#e8141b" stroke-width="0.7"/>
<line x1="450.46" y1="120.20" x2="450.46" y2="121.50" stroke="#fff" stroke-width="0.8"/>
<rect x="452.33" y="115.90" width="2.13" height="5.60" fill="#fbd0d0" stroke="#e8141b" stroke-width="0.7"/>
<line x1="453.39" y1="116.70" x2="453.39" y2="121.50" stroke="#fff" stroke-width="0.8"/>
<rect x="455.26" y="110.00" width="2.13" height="11.50" fill="#fbd0d0" stroke="#e8141b" stroke-width="0.7"/>
<line x1="456.32" y1="110.80" x2="456.32" y2="121.50" stroke="#fff" stroke-width="0.8"/>
<rect x="458.19" y="104.70" width="2.13" height="16.80" fill="#fbd0d0" stroke="#e8141b" stroke-width="0.7"/>
<line x1="459.25" y1="105.50" x2="459.25" y2="121.50" stroke="#fff" stroke-width="0.8"/>
<rect x="461.12" y="104.20" width="2.13" height="17.30" fill="#fbd0d0" stroke="#e8141b" stroke-width="0.7"/>
<line x1="462.19" y1="105.00" x2="462.19" y2="121.50" stroke="#fff" stroke-width="0.8"/>
<rect x="464.05" y="100.70" width="2.13" height="20.80" fill="#fbd0d0" stroke="#e8141b" stroke-width="0.7"/>
<line x1="465.11" y1="101.50" x2="465.11" y2="121.50" stroke="#fff" stroke-width="0.8"/>
<rect x="466.98" y="104.20" width="2.13" height="17.30" fill="#fbd0d0" stroke="#e8141b" stroke-width="0.7"/>
<line x1="468.04" y1="105.00" x2="468.04" y2="121.50" stroke="#fff" stroke-width="0.8"/>
<rect x="469.91" y="106.10" width="2.13" height="15.40" fill="#fbd0d0" stroke="#e8141b" stroke-width="0.7"/>
<line x1="470.97" y1="106.90" x2="470.97" y2="121.50" stroke="#fff" stroke-width="0.8"/>
<rect x="472.84" y="108.60" width="2.13" height="12.90" fill="#fbd0d0" stroke="#e8141b" stroke-width="0.7"/>
<line x1="473.90" y1="109.40" x2="473.90" y2="121.50" stroke="#fff" stroke-width="0.8"/>
<rect x="475.77" y="111.50" width="2.13" height="10.00" fill="#fbd0d0" stroke="#e8141b" stroke-width="0.7"/>
<line x1="476.83" y1="112.30" x2="476.83" y2="121.50" stroke="#fff" stroke-width="0.8"/>
<rect x="478.70" y="113.40" width="2.13" height="8.10" fill="#fbd0d0" stroke="#e8141b" stroke-width="0.7"/>
<line x1="479.76" y1="114.20" x2="479.76" y2="121.50" stroke="#fff" stroke-width="0.8"/>
<rect x="481.63" y="114.40" width="2.13" height="7.10" fill="#fbd0d0" stroke="#e8141b" stroke-width="0.7"/>
<line x1="482.69" y1="115.20" x2="482.69" y2="121.50" stroke="#fff" stroke-width="0.8"/>
<rect x="484.56" y="116.90" width="2.13" height="4.60" fill="#fbd0d0" stroke="#e8141b" stroke-width="0.7"/>
<line x1="485.62" y1="117.70" x2="485.62" y2="121.50" stroke="#fff" stroke-width="0.8"/>
<rect x="487.49" y="117.90" width="2.13" height="3.60" fill="#fbd0d0" stroke="#e8141b" stroke-width="0.7"/>
<line x1="488.56" y1="118.70" x2="488.56" y2="121.50" stroke="#fff" stroke-width="0.8"/>
<rect x="490.42" y="118.70" width="2.13" height="2.80" fill="#fbd0d0" stroke="#e8141b" stroke-width="0.7"/>
<line x1="491.48" y1="119.50" x2="491.48" y2="121.50" stroke="#fff" stroke-width="0.8"/>
<rect x="493.35" y="118.90" width="2.13" height="2.60" fill="#fbd0d0" stroke="#e8141b" stroke-width="0.7"/>
<line x1="494.41" y1="119.70" x2="494.41" y2="121.50" stroke="#fff" stroke-width="0.8"/>
<rect x="496.28" y="120.00" width="2.13" height="1.50" fill="#fbd0d0" stroke="#e8141b" stroke-width="0.7"/>
<line x1="497.34" y1="120.80" x2="497.34" y2="121.50" stroke="#fff" stroke-width="0.8"/>
<rect x="499.21" y="119.10" width="2.13" height="2.40" fill="#fbd0d0" stroke="#e8141b" stroke-width="0.7"/>
<line x1="500.27" y1="119.90" x2="500.27" y2="121.50" stroke="#fff" stroke-width="0.8"/>
<rect x="502.14" y="119.40" width="2.13" height="2.10" fill="#fbd0d0" stroke="#e8141b" stroke-width="0.7"/>
<line x1="503.20" y1="120.20" x2="503.20" y2="121.50" stroke="#fff" stroke-width="0.8"/>
<rect x="505.07" y="120.00" width="2.13" height="1.50" fill="#fbd0d0" stroke="#e8141b" stroke-width="0.7"/>
<line x1="506.13" y1="120.80" x2="506.13" y2="121.50" stroke="#fff" stroke-width="0.8"/>
<rect x="508.00" y="120.60" width="2.13" height="0.90" fill="#fbd0d0" stroke="#e8141b" stroke-width="0.7"/>
<line x1="509.06" y1="121.40" x2="509.06" y2="121.50" stroke="#fff" stroke-width="0.8"/>
<rect x="510.93" y="120.60" width="2.13" height="0.90" fill="#fbd0d0" stroke="#e8141b" stroke-width="0.7"/>
<line x1="511.99" y1="121.40" x2="511.99" y2="121.50" stroke="#fff" stroke-width="0.8"/>
<rect x="513.86" y="121.30" width="2.13" height="0.20" fill="#fbd0d0" stroke="#e8141b" stroke-width="0.7"/>
<line x1="514.93" y1="122.10" x2="514.93" y2="121.50" stroke="#fff" stroke-width="0.8"/>
<rect x="516.79" y="120.80" width="2.13" height="0.70" fill="#fbd0d0" stroke="#e8141b" stroke-width="0.7"/>
<line x1="517.86" y1="121.60" x2="517.86" y2="121.50" stroke="#fff" stroke-width="0.8"/>
<rect x="519.72" y="121.00" width="2.13" height="0.50" fill="#fbd0d0" stroke="#e8141b" stroke-width="0.7"/>
<line x1="520.79" y1="121.80" x2="520.79" y2="121.50" stroke="#fff" stroke-width="0.8"/>
<rect x="522.65" y="120.60" width="2.13" height="0.90" fill="#fbd0d0" stroke="#e8141b" stroke-width="0.7"/>
<line x1="523.72" y1="121.40" x2="523.72" y2="121.50" stroke="#fff" stroke-width="0.8"/>
<rect x="525.58" y="121.00" width="2.13" height="0.50" fill="#fbd0d0" stroke="#e8141b" stroke-width="0.7"/>
<line x1="526.65" y1="121.80" x2="526.65" y2="121.50" stroke="#fff" stroke-width="0.8"/>
<rect x="528.51" y="121.20" width="2.13" height="0.30" fill="#fbd0d0" stroke="#e8141b" stroke-width="0.7"/>
<line x1="529.58" y1="122.00" x2="529.58" y2="121.50" stroke="#fff" stroke-width="0.8"/>
<rect x="531.44" y="121.20" width="2.13" height="0.30" fill="#fbd0d0" stroke="#e8141b" stroke-width="0.7"/>
<line x1="532.50" y1="122.00" x2="532.50" y2="121.50" stroke="#fff" stroke-width="0.8"/>
<rect x="534.37" y="121.00" width="2.13" height="0.50" fill="#fbd0d0" stroke="#e8141b" stroke-width="0.7"/>
<line x1="535.44" y1="121.80" x2="535.44" y2="121.50" stroke="#fff" stroke-width="0.8"/>
<rect x="537.30" y="121.00" width="2.13" height="0.50" fill="#fbd0d0" stroke="#e8141b" stroke-width="0.7"/>
<line x1="538.37" y1="121.80" x2="538.37" y2="121.50" stroke="#fff" stroke-width="0.8"/>
<rect x="540.23" y="121.20" width="2.13" height="0.30" fill="#fbd0d0" stroke="#e8141b" stroke-width="0.7"/>
<line x1="541.30" y1="122.00" x2="541.30" y2="121.50" stroke="#fff" stroke-width="0.8"/>
<rect x="543.16" y="121.20" width="2.13" height="0.30" fill="#fbd0d0" stroke="#e8141b" stroke-width="0.7"/>
<line x1="544.23" y1="122.00" x2="544.23" y2="121.50" stroke="#fff" stroke-width="0.8"/>
<text x="433.66" y="135.50" font-size="10.18" fill="#262626" textLength="5.66" lengthAdjust="spacingAndGlyphs">0</text>
<text x="463.84" y="135.50" font-size="10.18" fill="#262626" textLength="12.23" lengthAdjust="spacingAndGlyphs">25</text>
<text x="497.78" y="135.50" font-size="10.18" fill="#262626" textLength="12.23" lengthAdjust="spacingAndGlyphs">50</text>
<text x="530.34" y="135.50" font-size="10.33" fill="#262626" textLength="12.41" lengthAdjust="spacingAndGlyphs">75</text>
<text x="560.73" y="135.50" font-size="10.18" fill="#262626" textLength="18.34" lengthAdjust="spacingAndGlyphs">100</text>
<line x1="435.5" y1="18.3" x2="435.5" y2="122.0" stroke="#666666" stroke-width="1" />
<line x1="433.2" y1="121.5" x2="436.0" y2="121.5" stroke="#666666" stroke-width="1" />
<line x1="433.2" y1="95.8" x2="436.0" y2="95.8" stroke="#666666" stroke-width="1" />
<line x1="433.2" y1="70.1" x2="436.0" y2="70.1" stroke="#666666" stroke-width="1" />
<line x1="433.2" y1="44.400000000000006" x2="436.0" y2="44.400000000000006" stroke="#666666" stroke-width="1" />
<line x1="433.2" y1="18.700000000000003" x2="436.0" y2="18.700000000000003" stroke="#666666" stroke-width="1" />
<line x1="433.2" y1="108.65" x2="436.0" y2="108.65" stroke="#666666" stroke-width="1" />
<line x1="433.2" y1="82.95" x2="436.0" y2="82.95" stroke="#666666" stroke-width="1" />
<line x1="433.2" y1="57.25000000000001" x2="436.0" y2="57.25000000000001" stroke="#666666" stroke-width="1" />
<line x1="433.2" y1="31.55000000000001" x2="436.0" y2="31.55000000000001" stroke="#666666" stroke-width="1" />
<text x="425.11" y="125.00" font-size="10.04" fill="#262626" textLength="5.58" lengthAdjust="spacingAndGlyphs">0</text>
<text x="418.68" y="99.30" font-size="10.04" fill="#262626" textLength="12.06" lengthAdjust="spacingAndGlyphs">10</text>
<text x="418.68" y="73.60" font-size="10.04" fill="#262626" textLength="12.06" lengthAdjust="spacingAndGlyphs">20</text>
<text x="418.68" y="47.90" font-size="10.04" fill="#262626" textLength="12.06" lengthAdjust="spacingAndGlyphs">30</text>
<text x="418.68" y="22.20" font-size="10.04" fill="#262626" textLength="12.06" lengthAdjust="spacingAndGlyphs">40</text>
<line x1="435.0" y1="121.5" x2="572.1" y2="121.5" stroke="#666666" stroke-width="1" />
<line x1="435.5" y1="121.5" x2="435.5" y2="123.7" stroke="#666666" stroke-width="0.9" />
<line x1="438.222" y1="121.5" x2="438.222" y2="123.7" stroke="#666666" stroke-width="0.9" />
<line x1="440.944" y1="121.5" x2="440.944" y2="123.7" stroke="#666666" stroke-width="0.9" />
<line x1="443.666" y1="121.5" x2="443.666" y2="123.7" stroke="#666666" stroke-width="0.9" />
<line x1="446.388" y1="121.5" x2="446.388" y2="123.7" stroke="#666666" stroke-width="0.9" />
<line x1="449.11" y1="121.5" x2="449.11" y2="123.7" stroke="#666666" stroke-width="0.9" />
<line x1="451.832" y1="121.5" x2="451.832" y2="123.7" stroke="#666666" stroke-width="0.9" />
<line x1="454.554" y1="121.5" x2="454.554" y2="123.7" stroke="#666666" stroke-width="0.9" />
<line x1="457.276" y1="121.5" x2="457.276" y2="123.7" stroke="#666666" stroke-width="0.9" />
<line x1="459.998" y1="121.5" x2="459.998" y2="123.7" stroke="#666666" stroke-width="0.9" />
<line x1="462.72" y1="121.5" x2="462.72" y2="123.7" stroke="#666666" stroke-width="0.9" />
<line x1="465.442" y1="121.5" x2="465.442" y2="123.7" stroke="#666666" stroke-width="0.9" />
<line x1="468.164" y1="121.5" x2="468.164" y2="123.7" stroke="#666666" stroke-width="0.9" />
<line x1="470.886" y1="121.5" x2="470.886" y2="123.7" stroke="#666666" stroke-width="0.9" />
<line x1="473.608" y1="121.5" x2="473.608" y2="123.7" stroke="#666666" stroke-width="0.9" />
<line x1="476.33000000000004" y1="121.5" x2="476.33000000000004" y2="123.7" stroke="#666666" stroke-width="0.9" />
<line x1="479.052" y1="121.5" x2="479.052" y2="123.7" stroke="#666666" stroke-width="0.9" />
<line x1="481.774" y1="121.5" x2="481.774" y2="123.7" stroke="#666666" stroke-width="0.9" />
<line x1="484.496" y1="121.5" x2="484.496" y2="123.7" stroke="#666666" stroke-width="0.9" />
<line x1="487.218" y1="121.5" x2="487.218" y2="123.7" stroke="#666666" stroke-width="0.9" />
<line x1="489.94" y1="121.5" x2="489.94" y2="123.7" stroke="#666666" stroke-width="0.9" />
<line x1="492.66200000000003" y1="121.5" x2="492.66200000000003" y2="123.7" stroke="#666666" stroke-width="0.9" />
<line x1="495.384" y1="121.5" x2="495.384" y2="123.7" stroke="#666666" stroke-width="0.9" />
<line x1="498.106" y1="121.5" x2="498.106" y2="123.7" stroke="#666666" stroke-width="0.9" />
<line x1="500.82800000000003" y1="121.5" x2="500.82800000000003" y2="123.7" stroke="#666666" stroke-width="0.9" />
<line x1="503.55" y1="121.5" x2="503.55" y2="123.7" stroke="#666666" stroke-width="0.9" />
<line x1="506.272" y1="121.5" x2="506.272" y2="123.7" stroke="#666666" stroke-width="0.9" />
<line x1="508.994" y1="121.5" x2="508.994" y2="123.7" stroke="#666666" stroke-width="0.9" />
<line x1="511.716" y1="121.5" x2="511.716" y2="123.7" stroke="#666666" stroke-width="0.9" />
<line x1="514.438" y1="121.5" x2="514.438" y2="123.7" stroke="#666666" stroke-width="0.9" />
<line x1="517.1600000000001" y1="121.5" x2="517.1600000000001" y2="123.7" stroke="#666666" stroke-width="0.9" />
<line x1="519.8820000000001" y1="121.5" x2="519.8820000000001" y2="123.7" stroke="#666666" stroke-width="0.9" />
<line x1="522.604" y1="121.5" x2="522.604" y2="123.7" stroke="#666666" stroke-width="0.9" />
<line x1="525.326" y1="121.5" x2="525.326" y2="123.7" stroke="#666666" stroke-width="0.9" />
<line x1="528.048" y1="121.5" x2="528.048" y2="123.7" stroke="#666666" stroke-width="0.9" />
<line x1="530.77" y1="121.5" x2="530.77" y2="123.7" stroke="#666666" stroke-width="0.9" />
<line x1="533.492" y1="121.5" x2="533.492" y2="123.7" stroke="#666666" stroke-width="0.9" />
<line x1="536.214" y1="121.5" x2="536.214" y2="123.7" stroke="#666666" stroke-width="0.9" />
<line x1="538.936" y1="121.5" x2="538.936" y2="123.7" stroke="#666666" stroke-width="0.9" />
<line x1="541.658" y1="121.5" x2="541.658" y2="123.7" stroke="#666666" stroke-width="0.9" />
<line x1="544.38" y1="121.5" x2="544.38" y2="123.7" stroke="#666666" stroke-width="0.9" />
<line x1="547.1020000000001" y1="121.5" x2="547.1020000000001" y2="123.7" stroke="#666666" stroke-width="0.9" />
<line x1="549.8240000000001" y1="121.5" x2="549.8240000000001" y2="123.7" stroke="#666666" stroke-width="0.9" />
<line x1="552.546" y1="121.5" x2="552.546" y2="123.7" stroke="#666666" stroke-width="0.9" />
<line x1="555.268" y1="121.5" x2="555.268" y2="123.7" stroke="#666666" stroke-width="0.9" />
<line x1="557.99" y1="121.5" x2="557.99" y2="123.7" stroke="#666666" stroke-width="0.9" />
<line x1="560.712" y1="121.5" x2="560.712" y2="123.7" stroke="#666666" stroke-width="0.9" />
<line x1="563.434" y1="121.5" x2="563.434" y2="123.7" stroke="#666666" stroke-width="0.9" />
<line x1="566.1560000000001" y1="121.5" x2="566.1560000000001" y2="123.7" stroke="#666666" stroke-width="0.9" />
<line x1="568.878" y1="121.5" x2="568.878" y2="123.7" stroke="#666666" stroke-width="0.9" />
<line x1="571.6" y1="121.5" x2="571.6" y2="123.7" stroke="#666666" stroke-width="0.9" />
<text x="468.12" y="148.90" font-size="10.30" fill="#262626" stroke="#262626" stroke-width="0.1" textLength="73.09" lengthAdjust="spacingAndGlyphs">amplitude (pA)</text>
<text transform="translate(415.14,116.86) rotate(-90)" x="0" y="0" font-size="12.61" fill="#262626" textLength="87.55" lengthAdjust="spacingAndGlyphs">number of events</text>
<text x="445.12" y="13.00" font-size="11.00" fill="#262626" stroke="#262626" stroke-width="0.1" textLength="50.20" lengthAdjust="spacingAndGlyphs">Frequency</text>
<text x="502.00" y="13.00" font-size="10.18" fill="#262626" stroke="#262626" stroke-width="0.1" textLength="50.05" lengthAdjust="spacingAndGlyphs">histogram</text>
<rect x="512.5" y="39.7" width="5.2" height="5" fill="#fff" stroke="#444" stroke-width="0.9"/>
<text x="521.24" y="44.90" font-size="9.90" fill="#262626" stroke="#262626" stroke-width="0.1" textLength="33.90" lengthAdjust="spacingAndGlyphs">2 weeks</text>
<rect x="512" y="56.3" width="6" height="5.1" fill="#000"/>
<text x="521.49" y="61.40" font-size="9.90" fill="#262626" stroke="#262626" stroke-width="0.1" textLength="33.64" lengthAdjust="spacingAndGlyphs">4 weeks</text>
<rect x="512.5" y="73.7" width="5.2" height="5.2" fill="#fff" stroke="#e8141b" stroke-width="0.9"/>
<text x="520.35" y="79.20" font-size="9.90" fill="#262626" stroke="#262626" stroke-width="0.1" textLength="43.29" lengthAdjust="spacingAndGlyphs">4w-aobX</text>
<rect x="449.60" y="272.50" width="2.85" height="24.00" fill="#000"/>
<rect x="452.45" y="231.80" width="2.85" height="64.70" fill="#000"/>
<rect x="455.30" y="237.60" width="2.85" height="58.90" fill="#000"/>
<rect x="458.15" y="229.10" width="2.85" height="67.40" fill="#000"/>
<rect x="461.00" y="219.10" width="2.85" height="77.40" fill="#000"/>
<rect x="463.85" y="259.00" width="2.85" height="37.50" fill="#000"/>
<rect x="466.70" y="277.40" width="2.85" height="19.10" fill="#000"/>
<rect x="469.55" y="277.00" width="2.85" height="19.50" fill="#000"/>
<rect x="472.40" y="279.00" width="2.85" height="17.50" fill="#000"/>
<rect x="475.25" y="286.60" width="2.85" height="9.90" fill="#000"/>
<rect x="478.10" y="287.30" width="2.85" height="9.20" fill="#000"/>
<rect x="480.95" y="290.90" width="2.85" height="5.60" fill="#000"/>
<rect x="483.80" y="291.50" width="2.85" height="5.00" fill="#000"/>
<rect x="486.65" y="293.50" width="2.85" height="3.00" fill="#000"/>
<rect x="492.35" y="295.00" width="2.85" height="1.50" fill="#000"/>
<rect x="495.20" y="295.00" width="2.85" height="1.50" fill="#000"/>
<rect x="515.15" y="294.20" width="2.85" height="2.30" fill="#000"/>
<rect x="518.00" y="294.20" width="2.85" height="2.30" fill="#000"/>
<rect x="523.70" y="295.00" width="2.85" height="1.50" fill="#000"/>
<rect x="449.90" y="280.50" width="2.25" height="16.00" fill="#fff" stroke="#000" stroke-width="0.6"/>
<rect x="452.75" y="253.00" width="2.25" height="43.50" fill="#fff" stroke="#000" stroke-width="0.6"/>
<rect x="455.60" y="259.30" width="2.25" height="37.20" fill="#fff" stroke="#000" stroke-width="0.6"/>
<rect x="458.45" y="266.30" width="2.25" height="30.20" fill="#fff" stroke="#000" stroke-width="0.6"/>
<rect x="461.30" y="261.30" width="2.25" height="35.20" fill="#fff" stroke="#000" stroke-width="0.6"/>
<rect x="464.15" y="280.50" width="2.25" height="16.00" fill="#fff" stroke="#000" stroke-width="0.6"/>
<rect x="467.00" y="281.30" width="2.25" height="15.20" fill="#fff" stroke="#000" stroke-width="0.6"/>
<rect x="469.85" y="283.30" width="2.25" height="13.20" fill="#fff" stroke="#000" stroke-width="0.6"/>
<rect x="472.70" y="287.80" width="2.25" height="8.70" fill="#fff" stroke="#000" stroke-width="0.6"/>
<rect x="475.55" y="291.30" width="2.25" height="5.20" fill="#fff" stroke="#000" stroke-width="0.6"/>
<rect x="478.40" y="292.30" width="2.25" height="4.20" fill="#fff" stroke="#000" stroke-width="0.6"/>
<rect x="481.25" y="293.80" width="2.25" height="2.70" fill="#fff" stroke="#000" stroke-width="0.6"/>
<rect x="484.10" y="294.30" width="2.25" height="2.20" fill="#fff" stroke="#000" stroke-width="0.6"/>
<rect x="486.95" y="294.80" width="2.25" height="1.70" fill="#fff" stroke="#000" stroke-width="0.6"/>
<rect x="450.00" y="288.40" width="2.05" height="8.10" fill="#fbd0d0" stroke="#e8141b" stroke-width="0.7"/>
<line x1="451.03" y1="289.20" x2="451.03" y2="296.50" stroke="#fff" stroke-width="0.8"/>
<rect x="452.85" y="274.30" width="2.05" height="22.20" fill="#fbd0d0" stroke="#e8141b" stroke-width="0.7"/>
<line x1="453.88" y1="275.10" x2="453.88" y2="296.50" stroke="#fff" stroke-width="0.8"/>
<rect x="455.70" y="282.10" width="2.05" height="14.40" fill="#fbd0d0" stroke="#e8141b" stroke-width="0.7"/>
<line x1="456.73" y1="282.90" x2="456.73" y2="296.50" stroke="#fff" stroke-width="0.8"/>
<rect x="458.55" y="274.30" width="2.05" height="22.20" fill="#fbd0d0" stroke="#e8141b" stroke-width="0.7"/>
<line x1="459.58" y1="275.10" x2="459.58" y2="296.50" stroke="#fff" stroke-width="0.8"/>
<rect x="461.40" y="273.90" width="2.05" height="22.60" fill="#fbd0d0" stroke="#e8141b" stroke-width="0.7"/>
<line x1="462.43" y1="274.70" x2="462.43" y2="296.50" stroke="#fff" stroke-width="0.8"/>
<rect x="464.25" y="279.40" width="2.05" height="17.10" fill="#fbd0d0" stroke="#e8141b" stroke-width="0.7"/>
<line x1="465.28" y1="280.20" x2="465.28" y2="296.50" stroke="#fff" stroke-width="0.8"/>
<rect x="467.10" y="283.20" width="2.05" height="13.30" fill="#fbd0d0" stroke="#e8141b" stroke-width="0.7"/>
<line x1="468.13" y1="284.00" x2="468.13" y2="296.50" stroke="#fff" stroke-width="0.8"/>
<rect x="469.95" y="285.40" width="2.05" height="11.10" fill="#fbd0d0" stroke="#e8141b" stroke-width="0.7"/>
<line x1="470.98" y1="286.20" x2="470.98" y2="296.50" stroke="#fff" stroke-width="0.8"/>
<rect x="472.80" y="288.40" width="2.05" height="8.10" fill="#fbd0d0" stroke="#e8141b" stroke-width="0.7"/>
<line x1="473.83" y1="289.20" x2="473.83" y2="296.50" stroke="#fff" stroke-width="0.8"/>
<rect x="475.65" y="290.40" width="2.05" height="6.10" fill="#fbd0d0" stroke="#e8141b" stroke-width="0.7"/>
<line x1="476.68" y1="291.20" x2="476.68" y2="296.50" stroke="#fff" stroke-width="0.8"/>
<rect x="478.50" y="291.90" width="2.05" height="4.60" fill="#fbd0d0" stroke="#e8141b" stroke-width="0.7"/>
<line x1="479.53" y1="292.70" x2="479.53" y2="296.50" stroke="#fff" stroke-width="0.8"/>
<rect x="481.35" y="292.90" width="2.05" height="3.60" fill="#fbd0d0" stroke="#e8141b" stroke-width="0.7"/>
<line x1="482.38" y1="293.70" x2="482.38" y2="296.50" stroke="#fff" stroke-width="0.8"/>
<rect x="484.20" y="293.40" width="2.05" height="3.10" fill="#fbd0d0" stroke="#e8141b" stroke-width="0.7"/>
<line x1="485.23" y1="294.20" x2="485.23" y2="296.50" stroke="#fff" stroke-width="0.8"/>
<rect x="487.05" y="293.00" width="2.05" height="3.50" fill="#fbd0d0" stroke="#e8141b" stroke-width="0.7"/>
<line x1="488.08" y1="293.80" x2="488.08" y2="296.50" stroke="#fff" stroke-width="0.8"/>
<rect x="489.90" y="293.00" width="2.05" height="3.50" fill="#fbd0d0" stroke="#e8141b" stroke-width="0.7"/>
<line x1="490.93" y1="293.80" x2="490.93" y2="296.50" stroke="#fff" stroke-width="0.8"/>
<rect x="504.15" y="294.20" width="2.05" height="2.30" fill="#fbd0d0" stroke="#e8141b" stroke-width="0.7"/>
<line x1="505.18" y1="295.00" x2="505.18" y2="296.50" stroke="#fff" stroke-width="0.8"/>
<rect x="507.00" y="294.20" width="2.05" height="2.30" fill="#fbd0d0" stroke="#e8141b" stroke-width="0.7"/>
<line x1="508.03" y1="295.00" x2="508.03" y2="296.50" stroke="#fff" stroke-width="0.8"/>
<rect x="515.55" y="294.60" width="2.05" height="1.90" fill="#fbd0d0" stroke="#e8141b" stroke-width="0.7"/>
<line x1="516.57" y1="295.40" x2="516.57" y2="296.50" stroke="#fff" stroke-width="0.8"/>
<rect x="518.40" y="294.60" width="2.05" height="1.90" fill="#fbd0d0" stroke="#e8141b" stroke-width="0.7"/>
<line x1="519.42" y1="295.40" x2="519.42" y2="296.50" stroke="#fff" stroke-width="0.8"/>
<rect x="564.00" y="294.40" width="2.05" height="2.10" fill="#fbd0d0" stroke="#e8141b" stroke-width="0.7"/>
<line x1="565.02" y1="295.20" x2="565.02" y2="296.50" stroke="#fff" stroke-width="0.8"/>
<text x="431.82" y="309.90" font-size="9.61" fill="#262626" textLength="5.34" lengthAdjust="spacingAndGlyphs">0</text>
<text x="461.99" y="309.90" font-size="9.61" fill="#262626" textLength="11.54" lengthAdjust="spacingAndGlyphs">25</text>
<text x="495.83" y="309.90" font-size="9.61" fill="#262626" textLength="11.54" lengthAdjust="spacingAndGlyphs">50</text>
<text x="528.19" y="309.90" font-size="9.75" fill="#262626" textLength="11.71" lengthAdjust="spacingAndGlyphs">75</text>
<text x="556.96" y="309.90" font-size="9.61" fill="#262626" textLength="17.31" lengthAdjust="spacingAndGlyphs">100</text>
<line x1="433.5" y1="193.2" x2="433.5" y2="297.0" stroke="#666666" stroke-width="1" />
<line x1="431.2" y1="296.5" x2="434.0" y2="296.5" stroke="#666666" stroke-width="1" />
<line x1="431.2" y1="270.8" x2="434.0" y2="270.8" stroke="#666666" stroke-width="1" />
<line x1="431.2" y1="245.1" x2="434.0" y2="245.1" stroke="#666666" stroke-width="1" />
<line x1="431.2" y1="219.4" x2="434.0" y2="219.4" stroke="#666666" stroke-width="1" />
<line x1="431.2" y1="193.7" x2="434.0" y2="193.7" stroke="#666666" stroke-width="1" />
<line x1="431.2" y1="283.65" x2="434.0" y2="283.65" stroke="#666666" stroke-width="1" />
<line x1="431.2" y1="257.95" x2="434.0" y2="257.95" stroke="#666666" stroke-width="1" />
<line x1="431.2" y1="232.24999999999997" x2="434.0" y2="232.24999999999997" stroke="#666666" stroke-width="1" />
<line x1="431.2" y1="206.54999999999998" x2="434.0" y2="206.54999999999998" stroke="#666666" stroke-width="1" />
<text x="423.01" y="300.00" font-size="10.04" fill="#262626" textLength="5.58" lengthAdjust="spacingAndGlyphs">0</text>
<text x="422.83" y="274.30" font-size="10.18" fill="#262626" textLength="5.66" lengthAdjust="spacingAndGlyphs">4</text>
<text x="423.06" y="248.60" font-size="10.04" fill="#262626" textLength="5.58" lengthAdjust="spacingAndGlyphs">8</text>
<text x="416.71" y="222.90" font-size="10.04" fill="#262626" textLength="12.06" lengthAdjust="spacingAndGlyphs">12</text>
<text x="416.63" y="197.20" font-size="10.04" fill="#262626" textLength="12.06" lengthAdjust="spacingAndGlyphs">16</text>
<line x1="433.0" y1="296.5" x2="570.4" y2="296.5" stroke="#666666" stroke-width="1" />
<line x1="433.5" y1="296.5" x2="433.5" y2="298.7" stroke="#666666" stroke-width="0.9" />
<line x1="436.228" y1="296.5" x2="436.228" y2="298.7" stroke="#666666" stroke-width="0.9" />
<line x1="438.956" y1="296.5" x2="438.956" y2="298.7" stroke="#666666" stroke-width="0.9" />
<line x1="441.684" y1="296.5" x2="441.684" y2="298.7" stroke="#666666" stroke-width="0.9" />
<line x1="444.412" y1="296.5" x2="444.412" y2="298.7" stroke="#666666" stroke-width="0.9" />
<line x1="447.14" y1="296.5" x2="447.14" y2="298.7" stroke="#666666" stroke-width="0.9" />
<line x1="449.868" y1="296.5" x2="449.868" y2="298.7" stroke="#666666" stroke-width="0.9" />
<line x1="452.596" y1="296.5" x2="452.596" y2="298.7" stroke="#666666" stroke-width="0.9" />
<line x1="455.324" y1="296.5" x2="455.324" y2="298.7" stroke="#666666" stroke-width="0.9" />
<line x1="458.052" y1="296.5" x2="458.052" y2="298.7" stroke="#666666" stroke-width="0.9" />
<line x1="460.78" y1="296.5" x2="460.78" y2="298.7" stroke="#666666" stroke-width="0.9" />
<line x1="463.508" y1="296.5" x2="463.508" y2="298.7" stroke="#666666" stroke-width="0.9" />
<line x1="466.236" y1="296.5" x2="466.236" y2="298.7" stroke="#666666" stroke-width="0.9" />
<line x1="468.964" y1="296.5" x2="468.964" y2="298.7" stroke="#666666" stroke-width="0.9" />
<line x1="471.692" y1="296.5" x2="471.692" y2="298.7" stroke="#666666" stroke-width="0.9" />
<line x1="474.41999999999996" y1="296.5" x2="474.41999999999996" y2="298.7" stroke="#666666" stroke-width="0.9" />
<line x1="477.148" y1="296.5" x2="477.148" y2="298.7" stroke="#666666" stroke-width="0.9" />
<line x1="479.876" y1="296.5" x2="479.876" y2="298.7" stroke="#666666" stroke-width="0.9" />
<line x1="482.604" y1="296.5" x2="482.604" y2="298.7" stroke="#666666" stroke-width="0.9" />
<line x1="485.332" y1="296.5" x2="485.332" y2="298.7" stroke="#666666" stroke-width="0.9" />
<line x1="488.06" y1="296.5" x2="488.06" y2="298.7" stroke="#666666" stroke-width="0.9" />
<line x1="490.788" y1="296.5" x2="490.788" y2="298.7" stroke="#666666" stroke-width="0.9" />
<line x1="493.51599999999996" y1="296.5" x2="493.51599999999996" y2="298.7" stroke="#666666" stroke-width="0.9" />
<line x1="496.24399999999997" y1="296.5" x2="496.24399999999997" y2="298.7" stroke="#666666" stroke-width="0.9" />
<line x1="498.972" y1="296.5" x2="498.972" y2="298.7" stroke="#666666" stroke-width="0.9" />
<line x1="501.7" y1="296.5" x2="501.7" y2="298.7" stroke="#666666" stroke-width="0.9" />
<line x1="504.428" y1="296.5" x2="504.428" y2="298.7" stroke="#666666" stroke-width="0.9" />
<line x1="507.156" y1="296.5" x2="507.156" y2="298.7" stroke="#666666" stroke-width="0.9" />
<line x1="509.884" y1="296.5" x2="509.884" y2="298.7" stroke="#666666" stroke-width="0.9" />
<line x1="512.612" y1="296.5" x2="512.612" y2="298.7" stroke="#666666" stroke-width="0.9" />
<line x1="515.3399999999999" y1="296.5" x2="515.3399999999999" y2="298.7" stroke="#666666" stroke-width="0.9" />
<line x1="518.068" y1="296.5" x2="518.068" y2="298.7" stroke="#666666" stroke-width="0.9" />
<line x1="520.796" y1="296.5" x2="520.796" y2="298.7" stroke="#666666" stroke-width="0.9" />
<line x1="523.524" y1="296.5" x2="523.524" y2="298.7" stroke="#666666" stroke-width="0.9" />
<line x1="526.252" y1="296.5" x2="526.252" y2="298.7" stroke="#666666" stroke-width="0.9" />
<line x1="528.98" y1="296.5" x2="528.98" y2="298.7" stroke="#666666" stroke-width="0.9" />
<line x1="531.708" y1="296.5" x2="531.708" y2="298.7" stroke="#666666" stroke-width="0.9" />
<line x1="534.4359999999999" y1="296.5" x2="534.4359999999999" y2="298.7" stroke="#666666" stroke-width="0.9" />
<line x1="537.164" y1="296.5" x2="537.164" y2="298.7" stroke="#666666" stroke-width="0.9" />
<line x1="539.892" y1="296.5" x2="539.892" y2="298.7" stroke="#666666" stroke-width="0.9" />
<line x1="542.62" y1="296.5" x2="542.62" y2="298.7" stroke="#666666" stroke-width="0.9" />
<line x1="545.348" y1="296.5" x2="545.348" y2="298.7" stroke="#666666" stroke-width="0.9" />
<line x1="548.076" y1="296.5" x2="548.076" y2="298.7" stroke="#666666" stroke-width="0.9" />
<line x1="550.804" y1="296.5" x2="550.804" y2="298.7" stroke="#666666" stroke-width="0.9" />
<line x1="553.5319999999999" y1="296.5" x2="553.5319999999999" y2="298.7" stroke="#666666" stroke-width="0.9" />
<line x1="556.26" y1="296.5" x2="556.26" y2="298.7" stroke="#666666" stroke-width="0.9" />
<line x1="558.9879999999999" y1="296.5" x2="558.9879999999999" y2="298.7" stroke="#666666" stroke-width="0.9" />
<line x1="561.716" y1="296.5" x2="561.716" y2="298.7" stroke="#666666" stroke-width="0.9" />
<line x1="564.444" y1="296.5" x2="564.444" y2="298.7" stroke="#666666" stroke-width="0.9" />
<line x1="567.172" y1="296.5" x2="567.172" y2="298.7" stroke="#666666" stroke-width="0.9" />
<line x1="569.9" y1="296.5" x2="569.9" y2="298.7" stroke="#666666" stroke-width="0.9" />
<text x="466.12" y="323.60" font-size="11.04" fill="#262626" stroke="#262626" stroke-width="0.1" textLength="73.29" lengthAdjust="spacingAndGlyphs">amplitude (pA)</text>
<text transform="translate(414.06,289.26) rotate(-90)" x="0" y="0" font-size="13.05" fill="#262626" textLength="86.74" lengthAdjust="spacingAndGlyphs">number of events</text>
<text x="442.71" y="179.80" font-size="11.15" fill="#262626" stroke="#262626" stroke-width="0.1" textLength="50.91" lengthAdjust="spacingAndGlyphs">Frequency</text>
<text x="496.80" y="179.80" font-size="10.18" fill="#262626" stroke="#262626" stroke-width="0.1" textLength="50.05" lengthAdjust="spacingAndGlyphs">histogram</text>
<rect x="509.8" y="219.7" width="5.3" height="5" fill="#fff" stroke="#444" stroke-width="0.9"/>
<text x="518.83" y="224.80" font-size="9.90" fill="#262626" stroke="#262626" stroke-width="0.1" textLength="34.41" lengthAdjust="spacingAndGlyphs">2 weeks</text>
<rect x="509.3" y="236.4" width="6.2" height="5" fill="#000"/>
<text x="519.09" y="241.90" font-size="9.90" fill="#262626" stroke="#262626" stroke-width="0.1" textLength="34.14" lengthAdjust="spacingAndGlyphs">4 weeks</text>
<rect x="510" y="253.7" width="5.3" height="5.5" fill="#fff" stroke="#e8141b" stroke-width="0.9"/>
<text x="518.76" y="259.80" font-size="9.90" fill="#262626" stroke="#262626" stroke-width="0.1" textLength="42.78" lengthAdjust="spacingAndGlyphs">4w-aobX</text>
<circle cx="648.8" cy="281.5" r="1.0" fill="#7a7a7a"/>
<circle cx="637.9" cy="265.4" r="1.0" fill="#7a7a7a"/>
<circle cx="660.5" cy="277.7" r="1.0" fill="#7a7a7a"/>
<circle cx="638.1" cy="255.5" r="1.0" fill="#7a7a7a"/>
<circle cx="644.3" cy="273.2" r="1.0" fill="#7a7a7a"/>
<circle cx="646.8" cy="256.8" r="1.0" fill="#7a7a7a"/>
<circle cx="697.5" cy="247.4" r="1.0" fill="#7a7a7a"/>
<circle cx="645.3" cy="276.6" r="1.0" fill="#7a7a7a"/>
<circle cx="646.8" cy="272.0" r="1.0" fill="#7a7a7a"/>
<circle cx="641.7" cy="248.2" r="1.0" fill="#7a7a7a"/>
<circle cx="675.9" cy="278.9" r="1.0" fill="#7a7a7a"/>
<circle cx="635.3" cy="266.3" r="1.0" fill="#7a7a7a"/>
<circle cx="653.3" cy="282.0" r="1.0" fill="#7a7a7a"/>
<circle cx="664.4" cy="282.0" r="1.0" fill="#7a7a7a"/>
<circle cx="640.1" cy="260.9" r="1.0" fill="#7a7a7a"/>
<circle cx="642.4" cy="267.3" r="1.0" fill="#7a7a7a"/>
<circle cx="647.7" cy="268.4" r="1.0" fill="#7a7a7a"/>
<circle cx="663.1" cy="244.1" r="1.0" fill="#7a7a7a"/>
<circle cx="678.9" cy="242.9" r="1.0" fill="#7a7a7a"/>
<circle cx="652.3" cy="247.5" r="1.0" fill="#7a7a7a"/>
<circle cx="648.5" cy="254.1" r="1.0" fill="#7a7a7a"/>
<circle cx="647.1" cy="278.0" r="1.0" fill="#7a7a7a"/>
<circle cx="644.5" cy="283.0" r="1.0" fill="#7a7a7a"/>
<circle cx="639.2" cy="282.9" r="1.0" fill="#7a7a7a"/>
<circle cx="654.9" cy="278.6" r="1.0" fill="#7a7a7a"/>
<circle cx="642.9" cy="263.9" r="1.0" fill="#7a7a7a"/>
<circle cx="641.4" cy="279.0" r="1.0" fill="#7a7a7a"/>
<circle cx="645.1" cy="245.5" r="1.0" fill="#7a7a7a"/>
<circle cx="643.6" cy="266.1" r="1.0" fill="#7a7a7a"/>
<circle cx="650.7" cy="283.4" r="1.0" fill="#7a7a7a"/>
<circle cx="670.9" cy="267.0" r="1.0" fill="#7a7a7a"/>
<circle cx="644.0" cy="260.3" r="1.0" fill="#7a7a7a"/>
<circle cx="634.5" cy="272.8" r="1.0" fill="#7a7a7a"/>
<circle cx="662.5" cy="279.5" r="1.0" fill="#7a7a7a"/>
<circle cx="645.4" cy="261.6" r="1.0" fill="#7a7a7a"/>
<circle cx="643.8" cy="279.7" r="1.0" fill="#7a7a7a"/>
<circle cx="633.3" cy="240.7" r="1.0" fill="#7a7a7a"/>
<circle cx="638.1" cy="268.9" r="1.0" fill="#7a7a7a"/>
<circle cx="669.5" cy="266.3" r="1.0" fill="#7a7a7a"/>
<circle cx="640.6" cy="274.7" r="1.0" fill="#7a7a7a"/>
<circle cx="637.8" cy="269.4" r="1.0" fill="#7a7a7a"/>
<circle cx="646.6" cy="281.2" r="1.0" fill="#7a7a7a"/>
<circle cx="650.0" cy="243.5" r="1.0" fill="#7a7a7a"/>
<circle cx="634.6" cy="256.7" r="1.0" fill="#7a7a7a"/>
<circle cx="654.0" cy="285.9" r="1.0" fill="#7a7a7a"/>
<circle cx="656.5" cy="272.6" r="1.0" fill="#7a7a7a"/>
<circle cx="644.7" cy="272.1" r="1.0" fill="#7a7a7a"/>
<circle cx="643.5" cy="255.0" r="1.0" fill="#7a7a7a"/>
<circle cx="663.3" cy="280.0" r="1.0" fill="#7a7a7a"/>
<circle cx="660.1" cy="278.8" r="1.0" fill="#7a7a7a"/>
<circle cx="676.0" cy="281.8" r="1.0" fill="#7a7a7a"/>
<circle cx="640.6" cy="271.6" r="1.0" fill="#7a7a7a"/>
<circle cx="651.8" cy="251.6" r="1.0" fill="#7a7a7a"/>
<circle cx="647.4" cy="271.4" r="1.0" fill="#7a7a7a"/>
<circle cx="647.9" cy="260.2" r="1.0" fill="#7a7a7a"/>
<circle cx="635.1" cy="273.7" r="1.0" fill="#7a7a7a"/>
<circle cx="638.9" cy="267.8" r="1.0" fill="#7a7a7a"/>
<circle cx="674.1" cy="279.4" r="1.0" fill="#7a7a7a"/>
<circle cx="646.4" cy="280.0" r="1.0" fill="#7a7a7a"/>
<circle cx="662.7" cy="278.2" r="1.0" fill="#7a7a7a"/>
<circle cx="657.1" cy="282.0" r="1.0" fill="#7a7a7a"/>
<circle cx="654.6" cy="274.1" r="1.0" fill="#7a7a7a"/>
<circle cx="646.6" cy="280.6" r="1.0" fill="#7a7a7a"/>
<circle cx="639.9" cy="266.3" r="1.0" fill="#7a7a7a"/>
<circle cx="653.8" cy="245.4" r="1.0" fill="#7a7a7a"/>
<circle cx="639.5" cy="275.4" r="1.0" fill="#7a7a7a"/>
<circle cx="643.0" cy="266.1" r="1.0" fill="#7a7a7a"/>
<circle cx="635.9" cy="260.3" r="1.0" fill="#7a7a7a"/>
<circle cx="659.6" cy="272.4" r="1.0" fill="#7a7a7a"/>
<circle cx="641.8" cy="279.9" r="1.0" fill="#7a7a7a"/>
<circle cx="654.3" cy="267.3" r="1.0" fill="#7a7a7a"/>
<circle cx="654.2" cy="261.3" r="1.0" fill="#7a7a7a"/>
<circle cx="659.6" cy="269.3" r="1.0" fill="#7a7a7a"/>
<circle cx="656.9" cy="252.5" r="1.0" fill="#7a7a7a"/>
<circle cx="650.8" cy="242.1" r="1.0" fill="#7a7a7a"/>
<circle cx="648.1" cy="265.3" r="1.0" fill="#7a7a7a"/>
<circle cx="652.4" cy="270.7" r="1.0" fill="#7a7a7a"/>
<circle cx="645.4" cy="255.4" r="1.0" fill="#7a7a7a"/>
<circle cx="664.0" cy="253.1" r="1.0" fill="#7a7a7a"/>
<circle cx="655.4" cy="280.6" r="1.0" fill="#7a7a7a"/>
<circle cx="651.5" cy="283.3" r="1.0" fill="#7a7a7a"/>
<circle cx="652.4" cy="274.9" r="1.0" fill="#7a7a7a"/>
<circle cx="642.9" cy="259.8" r="1.0" fill="#7a7a7a"/>
<circle cx="648.6" cy="277.5" r="1.0" fill="#7a7a7a"/>
<circle cx="654.1" cy="281.5" r="1.0" fill="#7a7a7a"/>
<circle cx="639.5" cy="276.8" r="1.0" fill="#7a7a7a"/>
<circle cx="645.5" cy="271.9" r="1.0" fill="#7a7a7a"/>
<circle cx="655.0" cy="284.4" r="1.0" fill="#7a7a7a"/>
<circle cx="645.0" cy="269.2" r="1.0" fill="#7a7a7a"/>
<circle cx="644.6" cy="269.2" r="1.0" fill="#7a7a7a"/>
<circle cx="698.9" cy="278.7" r="1.0" fill="#7a7a7a"/>
<circle cx="695.5" cy="270.0" r="1.0" fill="#7a7a7a"/>
<circle cx="677.4" cy="283.3" r="1.0" fill="#7a7a7a"/>
<circle cx="677.9" cy="266.8" r="1.0" fill="#7a7a7a"/>
<circle cx="683.0" cy="273.9" r="1.0" fill="#7a7a7a"/>
<circle cx="683.4" cy="283.3" r="1.0" fill="#7a7a7a"/>
<circle cx="705.6" cy="284.2" r="1.0" fill="#7a7a7a"/>
<circle cx="701.8" cy="283.7" r="1.0" fill="#7a7a7a"/>
<circle cx="640.3" cy="222.2" r="1.0" fill="#7a7a7a"/>
<circle cx="635.0" cy="230.3" r="1.0" fill="#7a7a7a"/>
<circle cx="636.2" cy="236.7" r="1.0" fill="#7a7a7a"/>
<circle cx="653.4" cy="269.7" r="1.0" fill="#000"/>
<circle cx="642.7" cy="279.0" r="1.0" fill="#000"/>
<circle cx="641.4" cy="281.6" r="1.0" fill="#000"/>
<circle cx="648.6" cy="281.7" r="1.0" fill="#000"/>
<circle cx="647.3" cy="287.5" r="1.0" fill="#000"/>
<circle cx="635.0" cy="287.4" r="1.0" fill="#000"/>
<circle cx="638.6" cy="277.0" r="1.0" fill="#000"/>
<circle cx="670.8" cy="281.1" r="1.0" fill="#000"/>
<circle cx="643.8" cy="284.6" r="1.0" fill="#000"/>
<circle cx="643.6" cy="275.7" r="1.0" fill="#000"/>
<circle cx="639.8" cy="271.0" r="1.0" fill="#000"/>
<circle cx="664.8" cy="261.2" r="1.0" fill="#000"/>
<circle cx="646.8" cy="279.1" r="1.0" fill="#000"/>
<circle cx="639.8" cy="284.2" r="1.0" fill="#000"/>
<circle cx="657.7" cy="273.7" r="1.0" fill="#000"/>
<circle cx="653.8" cy="278.0" r="1.0" fill="#000"/>
<circle cx="664.7" cy="265.1" r="1.0" fill="#000"/>
<circle cx="639.9" cy="264.3" r="1.0" fill="#000"/>
<circle cx="640.2" cy="279.0" r="1.0" fill="#000"/>
<circle cx="644.5" cy="286.2" r="1.0" fill="#000"/>
<circle cx="641.4" cy="261.7" r="1.0" fill="#000"/>
<circle cx="641.7" cy="276.4" r="1.0" fill="#000"/>
<circle cx="646.6" cy="275.2" r="1.0" fill="#000"/>
<circle cx="647.3" cy="277.7" r="1.0" fill="#000"/>
<circle cx="704.6" cy="277.2" r="1.0" fill="#000"/>
<circle cx="640.6" cy="279.9" r="1.0" fill="#000"/>
<circle cx="641.0" cy="273.0" r="1.0" fill="#000"/>
<circle cx="639.7" cy="288.7" r="1.0" fill="#000"/>
<circle cx="661.0" cy="272.9" r="1.0" fill="#000"/>
<circle cx="642.1" cy="286.6" r="1.0" fill="#000"/>
<circle cx="640.6" cy="287.3" r="1.0" fill="#000"/>
<circle cx="646.4" cy="242.8" r="1.0" fill="#000"/>
<circle cx="637.1" cy="280.7" r="1.0" fill="#000"/>
<circle cx="655.1" cy="253.4" r="1.0" fill="#000"/>
<circle cx="637.9" cy="273.9" r="1.0" fill="#000"/>
<circle cx="671.9" cy="279.7" r="1.0" fill="#000"/>
<circle cx="646.0" cy="279.6" r="1.0" fill="#000"/>
<circle cx="646.8" cy="281.2" r="1.0" fill="#000"/>
<circle cx="647.2" cy="279.0" r="1.0" fill="#000"/>
<circle cx="638.6" cy="283.0" r="1.0" fill="#000"/>
<circle cx="658.3" cy="268.1" r="1.0" fill="#000"/>
<circle cx="644.7" cy="276.1" r="1.0" fill="#000"/>
<circle cx="637.5" cy="270.9" r="1.0" fill="#000"/>
<circle cx="656.2" cy="285.2" r="1.0" fill="#000"/>
<circle cx="639.9" cy="273.0" r="1.0" fill="#000"/>
<circle cx="668.2" cy="281.5" r="1.0" fill="#000"/>
<circle cx="659.1" cy="287.2" r="1.0" fill="#000"/>
<circle cx="671.2" cy="285.9" r="1.0" fill="#000"/>
<circle cx="643.8" cy="270.1" r="1.0" fill="#000"/>
<circle cx="647.4" cy="285.9" r="1.0" fill="#000"/>
<circle cx="653.7" cy="279.5" r="1.0" fill="#000"/>
<circle cx="662.2" cy="280.1" r="1.0" fill="#000"/>
<circle cx="641.5" cy="273.1" r="1.0" fill="#000"/>
<circle cx="644.8" cy="279.7" r="1.0" fill="#000"/>
<circle cx="649.6" cy="278.1" r="1.0" fill="#000"/>
<circle cx="650.0" cy="248.3" r="1.0" fill="#000"/>
<circle cx="648.7" cy="279.5" r="1.0" fill="#000"/>
<circle cx="639.4" cy="279.2" r="1.0" fill="#000"/>
<circle cx="647.9" cy="281.7" r="1.0" fill="#000"/>
<circle cx="645.7" cy="262.5" r="1.0" fill="#000"/>
<circle cx="654.3" cy="277.3" r="1.0" fill="#000"/>
<circle cx="653.3" cy="272.7" r="1.0" fill="#000"/>
<circle cx="714.9" cy="281.1" r="1.0" fill="#000"/>
<circle cx="640.8" cy="259.4" r="1.0" fill="#000"/>
<circle cx="644.5" cy="271.5" r="1.0" fill="#000"/>
<circle cx="636.9" cy="270.5" r="1.0" fill="#000"/>
<circle cx="660.1" cy="255.4" r="1.0" fill="#000"/>
<circle cx="671.1" cy="278.2" r="1.0" fill="#000"/>
<circle cx="656.0" cy="263.1" r="1.0" fill="#000"/>
<circle cx="647.6" cy="281.3" r="1.0" fill="#000"/>
<circle cx="684.5" cy="280.7" r="1.0" fill="#000"/>
<circle cx="671.7" cy="278.2" r="1.0" fill="#000"/>
<circle cx="637.4" cy="278.5" r="1.0" fill="#000"/>
<circle cx="664.9" cy="256.3" r="1.0" fill="#000"/>
<circle cx="647.5" cy="267.8" r="1.0" fill="#000"/>
<circle cx="652.2" cy="270.3" r="1.0" fill="#000"/>
<circle cx="645.3" cy="260.1" r="1.0" fill="#000"/>
<circle cx="655.9" cy="285.3" r="1.0" fill="#000"/>
<circle cx="641.6" cy="262.6" r="1.0" fill="#000"/>
<circle cx="653.0" cy="276.4" r="1.0" fill="#000"/>
<circle cx="641.6" cy="288.6" r="1.0" fill="#000"/>
<circle cx="654.0" cy="277.1" r="1.0" fill="#000"/>
<circle cx="641.2" cy="281.0" r="1.0" fill="#000"/>
<circle cx="654.7" cy="273.2" r="1.0" fill="#000"/>
<circle cx="651.5" cy="282.1" r="1.0" fill="#000"/>
<circle cx="672.0" cy="261.0" r="1.0" fill="#000"/>
<circle cx="635.1" cy="256.4" r="1.0" fill="#000"/>
<circle cx="643.3" cy="275.1" r="1.0" fill="#000"/>
<circle cx="643.9" cy="272.5" r="1.0" fill="#000"/>
<circle cx="657.6" cy="262.6" r="1.0" fill="#000"/>
<circle cx="654.5" cy="273.1" r="1.0" fill="#000"/>
<circle cx="662.5" cy="274.7" r="1.0" fill="#000"/>
<circle cx="652.7" cy="255.2" r="1.0" fill="#000"/>
<circle cx="650.0" cy="260.2" r="1.0" fill="#000"/>
<circle cx="653.7" cy="282.0" r="1.0" fill="#000"/>
<circle cx="663.3" cy="260.2" r="1.0" fill="#000"/>
<circle cx="650.4" cy="279.9" r="1.0" fill="#000"/>
<circle cx="647.0" cy="275.7" r="1.0" fill="#000"/>
<circle cx="649.6" cy="281.6" r="1.0" fill="#000"/>
<circle cx="657.8" cy="280.3" r="1.0" fill="#000"/>
<circle cx="649.4" cy="287.7" r="1.0" fill="#000"/>
<circle cx="654.8" cy="277.9" r="1.0" fill="#000"/>
<circle cx="648.5" cy="248.5" r="1.0" fill="#000"/>
<circle cx="665.8" cy="276.1" r="1.0" fill="#000"/>
<circle cx="643.4" cy="278.6" r="1.0" fill="#000"/>
<circle cx="653.0" cy="271.6" r="1.0" fill="#000"/>
<circle cx="656.7" cy="280.7" r="1.0" fill="#000"/>
<circle cx="645.0" cy="260.1" r="1.0" fill="#000"/>
<circle cx="664.0" cy="277.5" r="1.0" fill="#000"/>
<circle cx="675.0" cy="281.8" r="1.0" fill="#000"/>
<circle cx="663.7" cy="258.3" r="1.0" fill="#000"/>
<circle cx="662.9" cy="276.5" r="1.0" fill="#000"/>
<circle cx="656.0" cy="278.5" r="1.0" fill="#000"/>
<circle cx="653.7" cy="284.4" r="1.0" fill="#000"/>
<circle cx="643.3" cy="282.9" r="1.0" fill="#000"/>
<circle cx="649.9" cy="279.5" r="1.0" fill="#000"/>
<circle cx="660.7" cy="288.3" r="1.0" fill="#000"/>
<circle cx="647.9" cy="282.0" r="1.0" fill="#000"/>
<circle cx="682.5" cy="270.8" r="1.0" fill="#000"/>
<circle cx="637.5" cy="288.4" r="1.0" fill="#000"/>
<circle cx="638.5" cy="257.5" r="1.0" fill="#000"/>
<circle cx="649.9" cy="271.4" r="1.0" fill="#000"/>
<circle cx="678.8" cy="269.8" r="1.0" fill="#000"/>
<circle cx="641.1" cy="268.7" r="1.0" fill="#000"/>
<circle cx="644.7" cy="282.6" r="1.0" fill="#000"/>
<circle cx="697.4" cy="275.9" r="1.0" fill="#000"/>
<circle cx="642.7" cy="264.5" r="1.0" fill="#000"/>
<circle cx="643.5" cy="243.6" r="1.0" fill="#000"/>
<circle cx="641.8" cy="257.2" r="1.0" fill="#000"/>
<circle cx="647.1" cy="280.8" r="1.0" fill="#000"/>
<circle cx="638.6" cy="273.4" r="1.0" fill="#000"/>
<circle cx="655.4" cy="276.1" r="1.0" fill="#000"/>
<circle cx="660.9" cy="275.8" r="1.0" fill="#000"/>
<circle cx="647.9" cy="262.8" r="1.0" fill="#000"/>
<circle cx="641.7" cy="283.2" r="1.0" fill="#000"/>
<circle cx="636.3" cy="241.4" r="1.0" fill="#000"/>
<circle cx="635.7" cy="284.6" r="1.0" fill="#000"/>
<circle cx="655.0" cy="264.5" r="1.0" fill="#000"/>
<circle cx="641.7" cy="283.0" r="1.15" fill="#e8141b"/>
<circle cx="640.9" cy="279.3" r="1.0" fill="#000"/>
<circle cx="653.4" cy="250.1" r="1.15" fill="#e8141b"/>
<circle cx="675.3" cy="276.5" r="1.0" fill="#000"/>
<circle cx="648.1" cy="269.0" r="1.0" fill="#000"/>
<circle cx="683.8" cy="277.0" r="1.15" fill="#e8141b"/>
<circle cx="640.8" cy="278.4" r="1.15" fill="#e8141b"/>
<circle cx="643.4" cy="285.1" r="1.15" fill="#e8141b"/>
<circle cx="651.0" cy="259.1" r="1.0" fill="#000"/>
<circle cx="635.9" cy="279.8" r="1.15" fill="#e8141b"/>
<circle cx="646.1" cy="281.5" r="1.15" fill="#e8141b"/>
<circle cx="653.2" cy="274.8" r="1.15" fill="#e8141b"/>
<circle cx="668.8" cy="287.0" r="1.15" fill="#e8141b"/>
<circle cx="639.5" cy="264.5" r="1.0" fill="#000"/>
<circle cx="646.8" cy="272.8" r="1.0" fill="#000"/>
<circle cx="690.3" cy="277.3" r="1.0" fill="#000"/>
<circle cx="652.2" cy="276.4" r="1.0" fill="#000"/>
<circle cx="649.8" cy="274.1" r="1.15" fill="#e8141b"/>
<circle cx="645.8" cy="275.7" r="1.0" fill="#000"/>
<circle cx="665.3" cy="279.6" r="1.15" fill="#e8141b"/>
<circle cx="647.2" cy="254.6" r="1.0" fill="#000"/>
<circle cx="653.0" cy="269.9" r="1.15" fill="#e8141b"/>
<circle cx="646.6" cy="287.4" r="1.15" fill="#e8141b"/>
<circle cx="643.6" cy="288.3" r="1.0" fill="#000"/>
<circle cx="654.3" cy="277.4" r="1.15" fill="#e8141b"/>
<circle cx="643.0" cy="276.1" r="1.15" fill="#e8141b"/>
<circle cx="662.6" cy="282.4" r="1.15" fill="#e8141b"/>
<circle cx="638.1" cy="284.4" r="1.15" fill="#e8141b"/>
<circle cx="638.2" cy="284.8" r="1.0" fill="#000"/>
<circle cx="657.2" cy="282.3" r="1.15" fill="#e8141b"/>
<circle cx="643.6" cy="262.9" r="1.15" fill="#e8141b"/>
<circle cx="634.1" cy="283.7" r="1.15" fill="#e8141b"/>
<circle cx="658.0" cy="281.4" r="1.0" fill="#000"/>
<circle cx="651.2" cy="288.9" r="1.0" fill="#000"/>
<circle cx="638.0" cy="254.1" r="1.0" fill="#000"/>
<circle cx="641.8" cy="260.9" r="1.15" fill="#e8141b"/>
<circle cx="635.5" cy="265.3" r="1.0" fill="#000"/>
<circle cx="636.9" cy="286.5" r="1.0" fill="#000"/>
<circle cx="642.9" cy="273.8" r="1.15" fill="#e8141b"/>
<circle cx="644.9" cy="260.4" r="1.0" fill="#000"/>
<circle cx="641.2" cy="267.0" r="1.0" fill="#000"/>
<circle cx="650.7" cy="272.3" r="1.0" fill="#000"/>
<circle cx="656.7" cy="272.1" r="1.0" fill="#000"/>
<circle cx="650.6" cy="274.5" r="1.15" fill="#e8141b"/>
<circle cx="639.2" cy="279.8" r="1.15" fill="#e8141b"/>
<circle cx="676.0" cy="274.3" r="1.15" fill="#e8141b"/>
<circle cx="635.1" cy="279.9" r="1.15" fill="#e8141b"/>
<circle cx="660.4" cy="276.7" r="1.0" fill="#000"/>
<circle cx="651.1" cy="276.8" r="1.15" fill="#e8141b"/>
<circle cx="645.7" cy="253.9" r="1.15" fill="#e8141b"/>
<circle cx="649.2" cy="249.6" r="1.0" fill="#000"/>
<circle cx="648.8" cy="290.9" r="1.15" fill="#e8141b"/>
<circle cx="637.6" cy="284.9" r="1.0" fill="#000"/>
<circle cx="662.6" cy="290.0" r="1.15" fill="#e8141b"/>
<circle cx="639.7" cy="281.6" r="1.0" fill="#000"/>
<circle cx="636.0" cy="283.1" r="1.15" fill="#e8141b"/>
<circle cx="662.4" cy="278.8" r="1.0" fill="#000"/>
<circle cx="654.2" cy="281.5" r="1.0" fill="#000"/>
<circle cx="657.1" cy="274.9" r="1.0" fill="#000"/>
<circle cx="642.0" cy="263.6" r="1.0" fill="#000"/>
<circle cx="658.7" cy="280.8" r="1.15" fill="#e8141b"/>
<circle cx="634.4" cy="276.1" r="1.0" fill="#000"/>
<circle cx="658.8" cy="276.7" r="1.0" fill="#000"/>
<circle cx="638.8" cy="284.8" r="1.15" fill="#e8141b"/>
<circle cx="684.2" cy="248.2" r="1.0" fill="#000"/>
<circle cx="643.2" cy="276.5" r="1.15" fill="#e8141b"/>
<circle cx="647.1" cy="279.7" r="1.15" fill="#e8141b"/>
<circle cx="661.5" cy="287.2" r="1.0" fill="#000"/>
<circle cx="637.3" cy="265.1" r="1.0" fill="#000"/>
<circle cx="647.0" cy="268.2" r="1.0" fill="#000"/>
<circle cx="637.9" cy="286.4" r="1.15" fill="#e8141b"/>
<circle cx="677.6" cy="272.2" r="1.15" fill="#e8141b"/>
<circle cx="649.2" cy="274.9" r="1.15" fill="#e8141b"/>
<circle cx="650.6" cy="282.4" r="1.0" fill="#000"/>
<circle cx="649.6" cy="289.4" r="1.15" fill="#e8141b"/>
<circle cx="647.3" cy="260.9" r="1.15" fill="#e8141b"/>
<circle cx="657.9" cy="266.2" r="1.15" fill="#e8141b"/>
<circle cx="644.2" cy="285.9" r="1.15" fill="#e8141b"/>
<circle cx="651.3" cy="275.2" r="1.0" fill="#000"/>
<circle cx="645.6" cy="283.3" r="1.0" fill="#000"/>
<circle cx="641.0" cy="248.0" r="1.0" fill="#000"/>
<circle cx="651.7" cy="278.8" r="1.0" fill="#000"/>
<circle cx="644.6" cy="242.6" r="1.0" fill="#000"/>
<circle cx="654.7" cy="276.0" r="1.0" fill="#000"/>
<circle cx="653.3" cy="263.9" r="1.0" fill="#000"/>
<circle cx="665.9" cy="276.8" r="1.15" fill="#e8141b"/>
<circle cx="644.1" cy="286.6" r="1.15" fill="#e8141b"/>
<circle cx="651.2" cy="282.9" r="1.15" fill="#e8141b"/>
<circle cx="642.7" cy="288.2" r="1.0" fill="#000"/>
<circle cx="641.1" cy="276.6" r="1.15" fill="#e8141b"/>
<circle cx="648.5" cy="272.0" r="1.15" fill="#e8141b"/>
<circle cx="660.8" cy="248.4" r="1.0" fill="#000"/>
<circle cx="655.6" cy="276.6" r="1.15" fill="#e8141b"/>
<circle cx="642.1" cy="247.5" r="1.0" fill="#000"/>
<circle cx="648.2" cy="287.6" r="1.15" fill="#e8141b"/>
<circle cx="651.8" cy="274.3" r="1.0" fill="#000"/>
<circle cx="690.1" cy="272.7" r="1.0" fill="#000"/>
<circle cx="638.4" cy="278.8" r="1.0" fill="#000"/>
<circle cx="638.8" cy="258.8" r="1.0" fill="#000"/>
<circle cx="652.8" cy="290.1" r="1.0" fill="#000"/>
<circle cx="658.2" cy="268.6" r="1.0" fill="#000"/>
<circle cx="657.1" cy="279.9" r="1.15" fill="#e8141b"/>
<circle cx="643.9" cy="275.9" r="1.15" fill="#e8141b"/>
<circle cx="653.3" cy="253.5" r="1.0" fill="#000"/>
<circle cx="640.1" cy="280.4" r="1.15" fill="#e8141b"/>
<circle cx="637.2" cy="280.3" r="1.15" fill="#e8141b"/>
<circle cx="658.5" cy="273.9" r="1.15" fill="#e8141b"/>
<circle cx="639.3" cy="265.1" r="1.0" fill="#000"/>
<circle cx="638.8" cy="273.6" r="1.15" fill="#e8141b"/>
<circle cx="655.0" cy="281.2" r="1.0" fill="#000"/>
<circle cx="662.9" cy="286.4" r="1.0" fill="#000"/>
<circle cx="659.5" cy="278.0" r="1.0" fill="#000"/>
<circle cx="643.7" cy="263.4" r="1.15" fill="#e8141b"/>
<circle cx="668.7" cy="291.2" r="1.15" fill="#e8141b"/>
<circle cx="641.2" cy="287.3" r="1.15" fill="#e8141b"/>
<circle cx="651.6" cy="251.6" r="1.0" fill="#000"/>
<circle cx="642.9" cy="283.6" r="1.0" fill="#000"/>
<circle cx="633.2" cy="276.4" r="1.0" fill="#000"/>
<circle cx="641.8" cy="267.4" r="1.0" fill="#000"/>
<circle cx="686.8" cy="282.1" r="1.0" fill="#000"/>
<circle cx="641.8" cy="273.7" r="1.15" fill="#e8141b"/>
<circle cx="638.2" cy="253.2" r="1.15" fill="#e8141b"/>
<circle cx="657.9" cy="240.8" r="1.0" fill="#000"/>
<circle cx="672.2" cy="286.7" r="1.15" fill="#e8141b"/>
<circle cx="661.7" cy="261.3" r="1.0" fill="#000"/>
<circle cx="659.1" cy="267.4" r="1.0" fill="#000"/>
<circle cx="655.5" cy="286.4" r="1.0" fill="#000"/>
<circle cx="644.0" cy="261.6" r="1.0" fill="#000"/>
<circle cx="681.4" cy="272.5" r="1.0" fill="#000"/>
<circle cx="679.4" cy="272.2" r="1.0" fill="#000"/>
<circle cx="646.6" cy="283.9" r="1.0" fill="#000"/>
<circle cx="653.0" cy="257.3" r="1.0" fill="#000"/>
<circle cx="661.2" cy="258.6" r="1.0" fill="#000"/>
<circle cx="652.5" cy="276.3" r="1.0" fill="#000"/>
<circle cx="644.9" cy="278.4" r="1.0" fill="#000"/>
<circle cx="639.5" cy="262.9" r="1.0" fill="#000"/>
<circle cx="638.5" cy="286.2" r="1.15" fill="#e8141b"/>
<circle cx="638.4" cy="278.5" r="1.0" fill="#000"/>
<circle cx="637.5" cy="286.8" r="1.0" fill="#000"/>
<circle cx="640.6" cy="275.4" r="1.0" fill="#000"/>
<circle cx="640.1" cy="280.1" r="1.0" fill="#000"/>
<circle cx="651.4" cy="284.8" r="1.15" fill="#e8141b"/>
<circle cx="668.2" cy="286.9" r="1.0" fill="#000"/>
<circle cx="666.2" cy="273.4" r="1.15" fill="#e8141b"/>
<circle cx="655.1" cy="278.3" r="1.0" fill="#000"/>
<circle cx="647.5" cy="258.1" r="1.0" fill="#000"/>
<circle cx="670.1" cy="260.1" r="1.0" fill="#000"/>
<circle cx="655.0" cy="264.2" r="1.0" fill="#000"/>
<circle cx="654.6" cy="281.1" r="1.15" fill="#e8141b"/>
<circle cx="648.4" cy="279.2" r="1.15" fill="#e8141b"/>
<circle cx="637.5" cy="277.3" r="1.0" fill="#000"/>
<circle cx="643.0" cy="261.4" r="1.0" fill="#000"/>
<circle cx="643.3" cy="277.2" r="1.0" fill="#000"/>
<circle cx="635.1" cy="271.8" r="1.15" fill="#e8141b"/>
<circle cx="646.6" cy="267.7" r="1.0" fill="#000"/>
<circle cx="657.6" cy="286.2" r="1.0" fill="#000"/>
<circle cx="668.4" cy="262.9" r="1.0" fill="#000"/>
<circle cx="641.9" cy="263.1" r="1.0" fill="#000"/>
<circle cx="686.6" cy="279.1" r="1.0" fill="#000"/>
<circle cx="644.6" cy="285.5" r="1.0" fill="#000"/>
<circle cx="643.3" cy="271.1" r="1.15" fill="#e8141b"/>
<circle cx="653.6" cy="286.3" r="1.15" fill="#e8141b"/>
<circle cx="663.3" cy="280.1" r="1.0" fill="#000"/>
<circle cx="683.2" cy="276.4" r="1.0" fill="#000"/>
<circle cx="653.9" cy="271.5" r="1.0" fill="#000"/>
<circle cx="647.8" cy="268.6" r="1.0" fill="#000"/>
<circle cx="636.8" cy="282.5" r="1.15" fill="#e8141b"/>
<circle cx="649.8" cy="279.9" r="1.15" fill="#e8141b"/>
<circle cx="654.8" cy="281.8" r="1.0" fill="#000"/>
<circle cx="660.5" cy="272.5" r="1.15" fill="#e8141b"/>
<circle cx="671.0" cy="286.7" r="1.0" fill="#000"/>
<circle cx="662.8" cy="273.7" r="1.0" fill="#000"/>
<circle cx="651.1" cy="266.7" r="1.15" fill="#e8141b"/>
<circle cx="647.5" cy="276.6" r="1.0" fill="#000"/>
<circle cx="670.3" cy="280.2" r="1.15" fill="#e8141b"/>
<circle cx="683.0" cy="275.8" r="1.0" fill="#000"/>
<circle cx="651.4" cy="286.2" r="1.15" fill="#e8141b"/>
<circle cx="670.2" cy="257.9" r="1.0" fill="#000"/>
<circle cx="639.5" cy="290.0" r="1.15" fill="#e8141b"/>
<circle cx="642.2" cy="281.0" r="1.0" fill="#000"/>
<circle cx="657.2" cy="259.5" r="1.0" fill="#000"/>
<circle cx="654.2" cy="287.5" r="1.15" fill="#e8141b"/>
<circle cx="662.2" cy="287.5" r="1.15" fill="#e8141b"/>
<circle cx="652.0" cy="267.4" r="1.15" fill="#e8141b"/>
<circle cx="686.8" cy="274.5" r="1.0" fill="#000"/>
<circle cx="653.7" cy="277.0" r="1.0" fill="#000"/>
<circle cx="639.4" cy="255.8" r="1.0" fill="#000"/>
<circle cx="664.0" cy="278.3" r="1.0" fill="#000"/>
<circle cx="658.9" cy="278.0" r="1.15" fill="#e8141b"/>
<circle cx="662.6" cy="280.4" r="1.0" fill="#000"/>
<circle cx="657.4" cy="276.3" r="1.0" fill="#000"/>
<circle cx="640.0" cy="277.6" r="1.0" fill="#000"/>
<circle cx="648.9" cy="280.0" r="1.0" fill="#000"/>
<circle cx="645.2" cy="280.7" r="1.15" fill="#e8141b"/>
<circle cx="635.8" cy="278.6" r="1.15" fill="#e8141b"/>
<circle cx="647.3" cy="272.1" r="1.15" fill="#e8141b"/>
<circle cx="643.4" cy="280.4" r="1.0" fill="#000"/>
<circle cx="634.9" cy="280.4" r="1.0" fill="#000"/>
<circle cx="638.2" cy="283.5" r="1.15" fill="#e8141b"/>
<circle cx="643.9" cy="282.6" r="1.0" fill="#000"/>
<circle cx="645.0" cy="272.5" r="1.0" fill="#000"/>
<circle cx="636.9" cy="289.4" r="1.15" fill="#e8141b"/>
<circle cx="646.3" cy="278.3" r="1.0" fill="#000"/>
<circle cx="640.2" cy="275.0" r="1.15" fill="#e8141b"/>
<circle cx="649.8" cy="270.1" r="1.15" fill="#e8141b"/>
<circle cx="635.9" cy="243.5" r="1.0" fill="#000"/>
<circle cx="666.3" cy="263.6" r="1.0" fill="#000"/>
<circle cx="645.3" cy="289.8" r="1.15" fill="#e8141b"/>
<circle cx="643.8" cy="270.3" r="1.15" fill="#e8141b"/>
<circle cx="643.5" cy="267.1" r="1.15" fill="#e8141b"/>
<circle cx="640.8" cy="285.3" r="1.15" fill="#e8141b"/>
<circle cx="642.9" cy="285.2" r="1.15" fill="#e8141b"/>
<circle cx="642.5" cy="283.8" r="1.0" fill="#000"/>
<circle cx="651.7" cy="284.1" r="1.0" fill="#000"/>
<circle cx="651.0" cy="274.0" r="1.0" fill="#000"/>
<circle cx="645.5" cy="273.7" r="1.15" fill="#e8141b"/>
<circle cx="650.2" cy="284.6" r="1.0" fill="#000"/>
<circle cx="647.0" cy="286.0" r="1.0" fill="#000"/>
<circle cx="639.0" cy="274.2" r="1.15" fill="#e8141b"/>
<circle cx="656.6" cy="276.2" r="1.15" fill="#e8141b"/>
<circle cx="642.4" cy="282.3" r="1.0" fill="#000"/>
<circle cx="652.7" cy="285.1" r="1.0" fill="#000"/>
<circle cx="657.8" cy="288.3" r="1.15" fill="#e8141b"/>
<circle cx="643.7" cy="281.7" r="1.15" fill="#e8141b"/>
<circle cx="660.5" cy="282.9" r="1.15" fill="#e8141b"/>
<circle cx="646.0" cy="269.9" r="1.0" fill="#000"/>
<circle cx="643.3" cy="272.6" r="1.15" fill="#e8141b"/>
<circle cx="639.8" cy="287.8" r="1.15" fill="#e8141b"/>
<circle cx="671.7" cy="280.3" r="1.0" fill="#000"/>
<circle cx="662.4" cy="284.3" r="1.0" fill="#000"/>
<circle cx="650.2" cy="275.6" r="1.0" fill="#000"/>
<circle cx="649.7" cy="281.4" r="1.0" fill="#000"/>
<circle cx="638.3" cy="284.2" r="1.15" fill="#e8141b"/>
<circle cx="639.2" cy="277.8" r="1.0" fill="#000"/>
<circle cx="668.3" cy="281.3" r="1.0" fill="#000"/>
<circle cx="637.0" cy="262.7" r="1.15" fill="#e8141b"/>
<circle cx="651.1" cy="275.1" r="1.0" fill="#000"/>
<circle cx="695.1" cy="268.5" r="1.0" fill="#000"/>
<circle cx="670.4" cy="283.7" r="1.15" fill="#e8141b"/>
<circle cx="647.6" cy="273.3" r="1.0" fill="#000"/>
<circle cx="672.5" cy="279.8" r="1.0" fill="#000"/>
<circle cx="656.4" cy="277.3" r="1.0" fill="#000"/>
<circle cx="646.2" cy="265.2" r="1.0" fill="#000"/>
<circle cx="658.4" cy="287.1" r="1.0" fill="#000"/>
<circle cx="648.1" cy="265.1" r="1.0" fill="#000"/>
<circle cx="635.8" cy="281.7" r="1.15" fill="#e8141b"/>
<circle cx="642.0" cy="287.0" r="1.0" fill="#000"/>
<circle cx="656.5" cy="269.6" r="1.0" fill="#000"/>
<circle cx="642.2" cy="277.7" r="1.15" fill="#e8141b"/>
<circle cx="635.3" cy="279.1" r="1.15" fill="#e8141b"/>
<circle cx="647.3" cy="266.8" r="1.0" fill="#000"/>
<circle cx="642.4" cy="283.1" r="1.15" fill="#e8141b"/>
<circle cx="655.5" cy="280.4" r="1.15" fill="#e8141b"/>
<circle cx="639.1" cy="260.3" r="1.15" fill="#e8141b"/>
<circle cx="654.5" cy="278.5" r="1.15" fill="#e8141b"/>
<circle cx="663.3" cy="248.0" r="1.0" fill="#000"/>
<circle cx="636.4" cy="276.4" r="1.0" fill="#000"/>
<circle cx="647.9" cy="280.9" r="1.15" fill="#e8141b"/>
<circle cx="663.2" cy="273.2" r="1.0" fill="#000"/>
<circle cx="636.8" cy="270.0" r="1.15" fill="#e8141b"/>
<circle cx="642.1" cy="281.9" r="1.15" fill="#e8141b"/>
<circle cx="647.8" cy="277.4" r="1.15" fill="#e8141b"/>
<circle cx="644.1" cy="288.1" r="1.15" fill="#e8141b"/>
<circle cx="641.7" cy="266.4" r="1.0" fill="#000"/>
<circle cx="666.9" cy="289.3" r="1.0" fill="#000"/>
<circle cx="653.1" cy="287.7" r="1.0" fill="#000"/>
<circle cx="651.2" cy="286.2" r="1.0" fill="#000"/>
<circle cx="638.7" cy="288.2" r="1.15" fill="#e8141b"/>
<circle cx="658.5" cy="275.3" r="1.0" fill="#000"/>
<circle cx="655.4" cy="282.8" r="1.15" fill="#e8141b"/>
<circle cx="641.9" cy="285.2" r="1.15" fill="#e8141b"/>
<circle cx="644.6" cy="241.5" r="1.0" fill="#000"/>
<circle cx="649.7" cy="280.4" r="1.0" fill="#000"/>
<circle cx="642.8" cy="268.5" r="1.15" fill="#e8141b"/>
<circle cx="646.9" cy="274.6" r="1.15" fill="#e8141b"/>
<circle cx="659.2" cy="265.0" r="1.15" fill="#e8141b"/>
<circle cx="643.6" cy="280.9" r="1.15" fill="#e8141b"/>
<circle cx="642.9" cy="272.7" r="1.0" fill="#000"/>
<circle cx="636.0" cy="286.2" r="1.15" fill="#e8141b"/>
<circle cx="663.3" cy="275.1" r="1.0" fill="#000"/>
<circle cx="652.4" cy="263.3" r="1.0" fill="#000"/>
<circle cx="643.7" cy="259.4" r="1.15" fill="#e8141b"/>
<circle cx="651.9" cy="270.7" r="1.0" fill="#000"/>
<circle cx="643.9" cy="254.5" r="1.0" fill="#000"/>
<circle cx="653.7" cy="258.5" r="1.0" fill="#000"/>
<circle cx="635.6" cy="271.2" r="1.0" fill="#000"/>
<circle cx="635.2" cy="278.9" r="1.15" fill="#e8141b"/>
<circle cx="637.2" cy="277.4" r="1.0" fill="#000"/>
<circle cx="639.4" cy="279.0" r="1.0" fill="#000"/>
<circle cx="637.9" cy="268.7" r="1.15" fill="#e8141b"/>
<circle cx="642.2" cy="267.7" r="1.0" fill="#000"/>
<circle cx="636.0" cy="281.3" r="1.15" fill="#e8141b"/>
<circle cx="668.5" cy="278.6" r="1.0" fill="#000"/>
<circle cx="687.6" cy="281.4" r="1.0" fill="#000"/>
<circle cx="644.1" cy="282.7" r="1.15" fill="#e8141b"/>
<circle cx="641.3" cy="284.5" r="1.15" fill="#e8141b"/>
<circle cx="638.8" cy="275.1" r="1.15" fill="#e8141b"/>
<circle cx="645.7" cy="270.9" r="1.0" fill="#000"/>
<circle cx="636.3" cy="289.1" r="1.15" fill="#e8141b"/>
<circle cx="640.6" cy="239.6" r="1.0" fill="#000"/>
<circle cx="650.7" cy="276.7" r="1.0" fill="#000"/>
<circle cx="637.9" cy="269.7" r="1.0" fill="#000"/>
<circle cx="636.2" cy="268.2" r="1.15" fill="#e8141b"/>
<circle cx="643.7" cy="285.0" r="1.15" fill="#e8141b"/>
<circle cx="648.0" cy="288.4" r="1.15" fill="#e8141b"/>
<circle cx="659.2" cy="275.2" r="1.15" fill="#e8141b"/>
<circle cx="666.3" cy="256.6" r="1.15" fill="#e8141b"/>
<circle cx="644.3" cy="266.5" r="1.0" fill="#000"/>
<circle cx="646.6" cy="283.6" r="1.0" fill="#000"/>
<circle cx="637.1" cy="274.9" r="1.15" fill="#e8141b"/>
<circle cx="643.0" cy="286.8" r="1.15" fill="#e8141b"/>
<circle cx="674.6" cy="245.7" r="1.15" fill="#e8141b"/>
<circle cx="647.4" cy="274.4" r="1.0" fill="#000"/>
<circle cx="671.4" cy="261.3" r="1.15" fill="#e8141b"/>
<circle cx="643.9" cy="259.7" r="1.0" fill="#000"/>
<circle cx="641.7" cy="264.6" r="1.0" fill="#000"/>
<circle cx="635.5" cy="280.4" r="1.0" fill="#000"/>
<circle cx="654.4" cy="274.1" r="1.0" fill="#000"/>
<circle cx="665.7" cy="279.0" r="1.0" fill="#000"/>
<circle cx="648.7" cy="275.0" r="1.15" fill="#e8141b"/>
<circle cx="649.2" cy="267.9" r="1.0" fill="#000"/>
<circle cx="668.2" cy="266.0" r="1.0" fill="#000"/>
<circle cx="644.5" cy="289.9" r="1.15" fill="#e8141b"/>
<circle cx="665.8" cy="263.6" r="1.0" fill="#000"/>
<circle cx="651.3" cy="274.3" r="1.15" fill="#e8141b"/>
<circle cx="641.1" cy="280.6" r="1.0" fill="#000"/>
<circle cx="657.4" cy="271.9" r="1.0" fill="#000"/>
<circle cx="653.2" cy="288.7" r="1.15" fill="#e8141b"/>
<circle cx="656.1" cy="285.8" r="1.15" fill="#e8141b"/>
<circle cx="654.6" cy="286.4" r="1.15" fill="#e8141b"/>
<circle cx="650.5" cy="277.0" r="1.0" fill="#000"/>
<circle cx="645.5" cy="287.7" r="1.0" fill="#000"/>
<circle cx="642.5" cy="282.5" r="1.15" fill="#e8141b"/>
<circle cx="640.4" cy="277.0" r="1.15" fill="#e8141b"/>
<circle cx="647.4" cy="282.8" r="1.15" fill="#e8141b"/>
<circle cx="646.7" cy="279.4" r="1.15" fill="#e8141b"/>
<circle cx="640.0" cy="283.3" r="1.15" fill="#e8141b"/>
<circle cx="663.2" cy="269.4" r="1.0" fill="#000"/>
<circle cx="651.5" cy="274.6" r="1.15" fill="#e8141b"/>
<circle cx="648.1" cy="285.0" r="1.0" fill="#000"/>
<circle cx="670.6" cy="269.7" r="1.0" fill="#000"/>
<circle cx="637.3" cy="287.3" r="1.15" fill="#e8141b"/>
<circle cx="653.7" cy="277.2" r="1.15" fill="#e8141b"/>
<circle cx="652.1" cy="274.0" r="1.0" fill="#000"/>
<circle cx="645.8" cy="272.0" r="1.0" fill="#000"/>
<circle cx="642.1" cy="273.9" r="1.15" fill="#e8141b"/>
<circle cx="643.1" cy="287.1" r="1.0" fill="#000"/>
<circle cx="666.0" cy="277.2" r="1.0" fill="#000"/>
<circle cx="648.5" cy="273.5" r="1.15" fill="#e8141b"/>
<circle cx="640.2" cy="277.1" r="1.0" fill="#000"/>
<circle cx="648.8" cy="272.4" r="1.0" fill="#000"/>
<circle cx="647.8" cy="275.1" r="1.0" fill="#000"/>
<circle cx="639.6" cy="276.6" r="1.0" fill="#000"/>
<circle cx="644.3" cy="286.3" r="1.15" fill="#e8141b"/>
<circle cx="640.7" cy="280.1" r="1.0" fill="#000"/>
<circle cx="639.7" cy="258.6" r="1.15" fill="#e8141b"/>
<circle cx="648.6" cy="258.8" r="1.0" fill="#000"/>
<circle cx="644.8" cy="268.6" r="1.15" fill="#e8141b"/>
<circle cx="645.2" cy="250.9" r="1.15" fill="#e8141b"/>
<circle cx="655.9" cy="256.7" r="1.15" fill="#e8141b"/>
<circle cx="645.7" cy="283.8" r="1.15" fill="#e8141b"/>
<circle cx="641.2" cy="282.1" r="1.0" fill="#000"/>
<circle cx="641.2" cy="279.6" r="1.0" fill="#000"/>
<circle cx="638.1" cy="280.1" r="1.15" fill="#e8141b"/>
<circle cx="658.0" cy="279.2" r="1.0" fill="#000"/>
<circle cx="637.3" cy="288.1" r="1.15" fill="#e8141b"/>
<circle cx="650.0" cy="269.7" r="1.0" fill="#000"/>
<circle cx="639.1" cy="279.8" r="1.15" fill="#e8141b"/>
<circle cx="636.5" cy="268.5" r="1.0" fill="#000"/>
<circle cx="635.3" cy="268.7" r="1.0" fill="#000"/>
<circle cx="640.0" cy="273.7" r="1.0" fill="#000"/>
<circle cx="649.0" cy="281.7" r="1.0" fill="#000"/>
<circle cx="641.7" cy="288.2" r="1.15" fill="#e8141b"/>
<circle cx="641.5" cy="264.4" r="1.0" fill="#000"/>
<circle cx="678.4" cy="252.8" r="1.0" fill="#000"/>
<circle cx="645.6" cy="280.2" r="1.0" fill="#000"/>
<circle cx="648.7" cy="289.4" r="1.15" fill="#e8141b"/>
<circle cx="642.4" cy="284.9" r="1.15" fill="#e8141b"/>
<circle cx="645.9" cy="284.9" r="1.0" fill="#000"/>
<circle cx="641.4" cy="272.0" r="1.15" fill="#e8141b"/>
<circle cx="659.1" cy="271.0" r="1.15" fill="#e8141b"/>
<circle cx="673.8" cy="280.6" r="1.15" fill="#e8141b"/>
<circle cx="655.1" cy="265.8" r="1.15" fill="#e8141b"/>
<circle cx="641.1" cy="282.1" r="1.15" fill="#e8141b"/>
<circle cx="650.3" cy="289.9" r="1.15" fill="#e8141b"/>
<circle cx="651.5" cy="283.2" r="1.15" fill="#e8141b"/>
<circle cx="680.6" cy="252.7" r="1.15" fill="#e8141b"/>
<circle cx="636.6" cy="283.8" r="1.15" fill="#e8141b"/>
<circle cx="659.2" cy="275.5" r="1.15" fill="#e8141b"/>
<circle cx="638.8" cy="278.0" r="1.15" fill="#e8141b"/>
<circle cx="669.1" cy="276.2" r="1.15" fill="#e8141b"/>
<circle cx="636.5" cy="284.7" r="1.15" fill="#e8141b"/>
<circle cx="672.3" cy="271.7" r="1.15" fill="#e8141b"/>
<circle cx="650.9" cy="285.6" r="1.15" fill="#e8141b"/>
<circle cx="637.9" cy="279.0" r="1.15" fill="#e8141b"/>
<circle cx="668.5" cy="274.1" r="1.15" fill="#e8141b"/>
<circle cx="647.2" cy="278.8" r="1.15" fill="#e8141b"/>
<circle cx="657.5" cy="286.0" r="1.15" fill="#e8141b"/>
<circle cx="639.2" cy="286.2" r="1.15" fill="#e8141b"/>
<circle cx="644.0" cy="291.2" r="1.15" fill="#e8141b"/>
<circle cx="658.0" cy="285.4" r="1.15" fill="#e8141b"/>
<circle cx="643.8" cy="279.9" r="1.15" fill="#e8141b"/>
<circle cx="654.9" cy="272.5" r="1.15" fill="#e8141b"/>
<circle cx="639.2" cy="274.7" r="1.15" fill="#e8141b"/>
<circle cx="640.2" cy="271.9" r="1.15" fill="#e8141b"/>
<circle cx="643.5" cy="272.3" r="1.15" fill="#e8141b"/>
<circle cx="641.9" cy="283.2" r="1.15" fill="#e8141b"/>
<circle cx="650.4" cy="277.5" r="1.15" fill="#e8141b"/>
<circle cx="644.1" cy="286.4" r="1.15" fill="#e8141b"/>
<circle cx="637.8" cy="280.5" r="1.15" fill="#e8141b"/>
<circle cx="640.9" cy="265.5" r="1.15" fill="#e8141b"/>
<circle cx="639.8" cy="285.0" r="1.15" fill="#e8141b"/>
<circle cx="640.7" cy="279.3" r="1.15" fill="#e8141b"/>
<circle cx="638.4" cy="277.9" r="1.15" fill="#e8141b"/>
<circle cx="639.3" cy="277.2" r="1.15" fill="#e8141b"/>
<circle cx="633.7" cy="273.7" r="1.15" fill="#e8141b"/>
<circle cx="635.7" cy="281.8" r="1.15" fill="#e8141b"/>
<circle cx="636.5" cy="284.3" r="1.15" fill="#e8141b"/>
<circle cx="633.1" cy="288.3" r="1.15" fill="#e8141b"/>
<circle cx="664.1" cy="263.2" r="1.15" fill="#e8141b"/>
<circle cx="644.2" cy="281.5" r="1.15" fill="#e8141b"/>
<circle cx="656.8" cy="278.7" r="1.15" fill="#e8141b"/>
<circle cx="646.6" cy="284.7" r="1.15" fill="#e8141b"/>
<circle cx="654.7" cy="276.7" r="1.15" fill="#e8141b"/>
<circle cx="636.8" cy="277.8" r="1.15" fill="#e8141b"/>
<circle cx="694.6" cy="273.6" r="1.15" fill="#e8141b"/>
<circle cx="644.9" cy="272.0" r="1.15" fill="#e8141b"/>
<circle cx="638.4" cy="252.4" r="1.15" fill="#e8141b"/>
<circle cx="662.9" cy="284.3" r="1.15" fill="#e8141b"/>
<circle cx="637.0" cy="289.2" r="1.15" fill="#e8141b"/>
<circle cx="645.1" cy="279.3" r="1.15" fill="#e8141b"/>
<circle cx="643.5" cy="275.7" r="1.15" fill="#e8141b"/>
<circle cx="647.6" cy="284.2" r="1.15" fill="#e8141b"/>
<circle cx="663.0" cy="283.2" r="1.15" fill="#e8141b"/>
<circle cx="653.6" cy="288.0" r="1.15" fill="#e8141b"/>
<circle cx="644.7" cy="281.1" r="1.15" fill="#e8141b"/>
<circle cx="662.2" cy="282.9" r="1.15" fill="#e8141b"/>
<circle cx="646.0" cy="265.3" r="1.15" fill="#e8141b"/>
<circle cx="649.8" cy="266.1" r="1.15" fill="#e8141b"/>
<circle cx="638.1" cy="259.1" r="1.15" fill="#e8141b"/>
<circle cx="652.7" cy="263.0" r="1.15" fill="#e8141b"/>
<circle cx="667.8" cy="285.0" r="1.15" fill="#e8141b"/>
<circle cx="650.5" cy="272.0" r="1.15" fill="#e8141b"/>
<circle cx="656.0" cy="271.6" r="1.15" fill="#e8141b"/>
<circle cx="659.7" cy="278.9" r="1.15" fill="#e8141b"/>
<circle cx="680.1" cy="289.0" r="1.15" fill="#e8141b"/>
<circle cx="644.2" cy="283.3" r="1.15" fill="#e8141b"/>
<circle cx="643.3" cy="253.4" r="1.15" fill="#e8141b"/>
<circle cx="646.0" cy="283.7" r="1.15" fill="#e8141b"/>
<circle cx="639.5" cy="287.6" r="1.15" fill="#e8141b"/>
<circle cx="641.5" cy="270.1" r="1.15" fill="#e8141b"/>
<circle cx="656.9" cy="288.4" r="1.15" fill="#e8141b"/>
<circle cx="645.8" cy="248.4" r="1.15" fill="#e8141b"/>
<circle cx="650.9" cy="285.5" r="1.15" fill="#e8141b"/>
<circle cx="638.6" cy="284.0" r="1.15" fill="#e8141b"/>
<circle cx="648.2" cy="271.5" r="1.15" fill="#e8141b"/>
<circle cx="655.5" cy="273.6" r="1.15" fill="#e8141b"/>
<circle cx="660.5" cy="281.4" r="1.15" fill="#e8141b"/>
<circle cx="652.2" cy="274.7" r="1.15" fill="#e8141b"/>
<circle cx="656.8" cy="271.2" r="1.15" fill="#e8141b"/>
<circle cx="639.1" cy="267.7" r="1.15" fill="#e8141b"/>
<circle cx="644.6" cy="285.7" r="1.15" fill="#e8141b"/>
<circle cx="635.4" cy="286.3" r="1.15" fill="#e8141b"/>
<circle cx="637.5" cy="286.3" r="1.15" fill="#e8141b"/>
<circle cx="679.1" cy="264.1" r="1.15" fill="#e8141b"/>
<circle cx="669.7" cy="290.3" r="1.15" fill="#e8141b"/>
<circle cx="651.1" cy="289.2" r="1.15" fill="#e8141b"/>
<circle cx="647.7" cy="276.3" r="1.15" fill="#e8141b"/>
<circle cx="657.0" cy="265.8" r="1.15" fill="#e8141b"/>
<circle cx="641.3" cy="287.5" r="1.15" fill="#e8141b"/>
<circle cx="648.5" cy="277.2" r="1.15" fill="#e8141b"/>
<circle cx="634.4" cy="284.1" r="1.15" fill="#e8141b"/>
<circle cx="646.5" cy="274.6" r="1.15" fill="#e8141b"/>
<circle cx="651.2" cy="274.4" r="1.15" fill="#e8141b"/>
<circle cx="650.9" cy="264.3" r="1.15" fill="#e8141b"/>
<circle cx="657.8" cy="272.2" r="1.15" fill="#e8141b"/>
<circle cx="648.8" cy="277.5" r="1.15" fill="#e8141b"/>
<circle cx="644.5" cy="282.3" r="1.15" fill="#e8141b"/>
<circle cx="638.2" cy="280.2" r="1.15" fill="#e8141b"/>
<circle cx="644.8" cy="284.5" r="1.15" fill="#e8141b"/>
<circle cx="648.5" cy="282.4" r="1.15" fill="#e8141b"/>
<circle cx="661.9" cy="278.4" r="1.15" fill="#e8141b"/>
<line x1="666" y1="268.5" x2="706" y2="262.6" stroke="#8a8a8a" stroke-width="0.6" />
<line x1="666" y1="270.6" x2="728.5" y2="262.2" stroke="#222" stroke-width="0.6" />
<line x1="666" y1="273.2" x2="743" y2="263.6" stroke="#e8141b" stroke-width="0.6" />
<line x1="613.5" y1="198.2" x2="613.5" y2="295.0" stroke="#666666" stroke-width="1" />
<line x1="611.2" y1="294.5" x2="614.0" y2="294.5" stroke="#666666" stroke-width="1" />
<line x1="611.2" y1="275.26" x2="614.0" y2="275.26" stroke="#666666" stroke-width="1" />
<line x1="611.2" y1="256.02" x2="614.0" y2="256.02" stroke="#666666" stroke-width="1" />
<line x1="611.2" y1="236.78" x2="614.0" y2="236.78" stroke="#666666" stroke-width="1" />
<line x1="611.2" y1="217.54000000000002" x2="614.0" y2="217.54000000000002" stroke="#666666" stroke-width="1" />
<line x1="611.2" y1="198.3" x2="614.0" y2="198.3" stroke="#666666" stroke-width="1" />
<line x1="611.2" y1="284.88" x2="614.0" y2="284.88" stroke="#666666" stroke-width="1" />
<line x1="611.2" y1="265.64" x2="614.0" y2="265.64" stroke="#666666" stroke-width="1" />
<line x1="611.2" y1="246.4" x2="614.0" y2="246.4" stroke="#666666" stroke-width="1" />
<line x1="611.2" y1="227.16" x2="614.0" y2="227.16" stroke="#666666" stroke-width="1" />
<line x1="611.2" y1="207.92000000000002" x2="614.0" y2="207.92000000000002" stroke="#666666" stroke-width="1" />
<text x="602.81" y="298.00" font-size="10.04" fill="#262626" textLength="5.58" lengthAdjust="spacingAndGlyphs">0</text>
<text x="602.93" y="278.76" font-size="10.04" fill="#262626" textLength="5.58" lengthAdjust="spacingAndGlyphs">2</text>
<text x="602.63" y="259.52" font-size="10.18" fill="#262626" textLength="5.66" lengthAdjust="spacingAndGlyphs">4</text>
<text x="602.86" y="240.28" font-size="10.04" fill="#262626" textLength="5.58" lengthAdjust="spacingAndGlyphs">6</text>
<text x="602.86" y="221.04" font-size="10.04" fill="#262626" textLength="5.58" lengthAdjust="spacingAndGlyphs">8</text>
<text x="596.38" y="201.80" font-size="10.04" fill="#262626" textLength="12.06" lengthAdjust="spacingAndGlyphs">10</text>
<line x1="613" y1="294.5" x2="749.4" y2="294.5" stroke="#666666" stroke-width="1" />
<line x1="613.5" y1="294.5" x2="613.5" y2="296.5" stroke="#666666" stroke-width="1" />
<line x1="647.5" y1="294.5" x2="647.5" y2="296.5" stroke="#666666" stroke-width="1" />
<line x1="681.5" y1="294.5" x2="681.5" y2="296.5" stroke="#666666" stroke-width="1" />
<line x1="715.5" y1="294.5" x2="715.5" y2="296.5" stroke="#666666" stroke-width="1" />
<line x1="748.9" y1="294.5" x2="748.9" y2="296.5" stroke="#666666" stroke-width="1" />
<text x="610.32" y="310.50" font-size="10.32" fill="#262626" textLength="5.74" lengthAdjust="spacingAndGlyphs">0</text>
<text x="641.34" y="310.50" font-size="10.32" fill="#262626" textLength="12.40" lengthAdjust="spacingAndGlyphs">20</text>
<text x="675.60" y="310.50" font-size="10.32" fill="#262626" textLength="12.40" lengthAdjust="spacingAndGlyphs">40</text>
<text x="709.14" y="310.50" font-size="10.32" fill="#262626" textLength="12.40" lengthAdjust="spacingAndGlyphs">60</text>
<text x="742.68" y="310.50" font-size="10.32" fill="#262626" textLength="12.40" lengthAdjust="spacingAndGlyphs">80</text>
<text x="650.02" y="323.10" font-size="11.49" fill="#262626" stroke="#262626" stroke-width="0.1" textLength="73.49" lengthAdjust="spacingAndGlyphs">amplitude (pA)</text>
<text transform="translate(592.20,280.27) rotate(-90)" x="0" y="0" font-size="9.94" fill="#262626" textLength="68.98" lengthAdjust="spacingAndGlyphs">rise time (ms)</text>
<text x="627.41" y="179.80" font-size="10.67" fill="#262626" stroke="#262626" stroke-width="0.1" textLength="107.78" lengthAdjust="spacingAndGlyphs">dendritic filtering bias</text>
<text x="700.54" y="206.90" font-size="11.04" fill="#8c8c8c" stroke="#8c8c8c" stroke-width="0.1" textLength="54.55" lengthAdjust="spacingAndGlyphs">R² = 0.0164</text>
<text x="700.54" y="225.00" font-size="11.04" fill="#111" stroke="#111" stroke-width="0.1" textLength="54.71" lengthAdjust="spacingAndGlyphs">R² = 0.0953</text>
<text x="700.54" y="243.00" font-size="11.33" fill="#e8141b" stroke="#e8141b" stroke-width="0.1" textLength="54.77" lengthAdjust="spacingAndGlyphs">R² = 0.0441</text>
<circle cx="721.0" cy="243.4" r="1.2" fill="#e8141b"/>
<defs>
<filter id="bl1" x="-50%" y="-50%" width="200%" height="200%"><feGaussianBlur stdDeviation="1.2"/></filter>
<filter id="bl2" x="-50%" y="-50%" width="200%" height="200%"><feGaussianBlur stdDeviation="0.7"/></filter>
<filter id="bl3" x="-50%" y="-50%" width="200%" height="200%"><feGaussianBlur stdDeviation="2.2"/></filter>
</defs>
<path d="M616.5,37.8 L672.9,37.8 L673,112 L671,117 L660.2,128.8 L648.3,125.1 L634.5,129.7 L620,118 L617.5,113 Z" fill="#f3f3f3" stroke="#e0e0e0" stroke-width="0.9"/>
<path d="M620.5,62 Q623,44 645,42.5 Q668,43 670,60 L669.5,104 Q646,110 620.5,104 Z" fill="#fbfbfb" stroke="#e6e6e6" stroke-width="0.8"/>
<path d="M620.5,104 Q646,110 669.5,104 L670,113 Q646,120 621,113 Z" fill="#ededed" opacity="0.8"/>
<line x1="640" y1="76" x2="641" y2="118" stroke="#e6e6e6" stroke-width="0.7"/>
<path d="M624,56 Q630,44 646,44 Q664,45 669,58 Q662,50 646,49 Q632,49 624,56 Z" fill="#dedede" opacity="0.7" filter="url(#bl2)"/>
<path d="M625.6,57.6 L632,51.7 L643,47.5 L647.7,48.4 L648.5,61 L636,67.7 L626,63.5 Z" fill="#b6dcdc" stroke="#8cc4c4" stroke-width="1" opacity="0.95"/>
<path d="M630,57 L640,51 L645,52 L644,60 L636,63 Z" fill="#cfe8e8" opacity="0.8" filter="url(#bl2)"/>
<path d="M641,46.5 L649,47.5 L649,60 L641,63 Z" fill="#a4a4ac" opacity="0.5" filter="url(#bl2)"/>
<ellipse cx="659" cy="60.3" rx="2.6" ry="2.2" fill="#f4b4b4" filter="url(#bl1)"/>
<ellipse cx="650" cy="55.5" rx="3.2" ry="4.8" fill="#f06868" opacity="0.8" filter="url(#bl1)"/>
<ellipse cx="647" cy="63" rx="4.6" ry="8.5" transform="rotate(32 647 63)" fill="#ff2424" opacity="0.95" filter="url(#bl2)"/>
<ellipse cx="640.5" cy="73" rx="5.2" ry="7" transform="rotate(25 640.5 73)" fill="#ff1010" filter="url(#bl2)"/>
<circle cx="653.5" cy="65" r="1.3" fill="#ff4040" filter="url(#bl2)"/>
<circle cx="652" cy="69" r="1" fill="#ff6060" filter="url(#bl2)"/>
<path d="M701,48.4 L745.7,46.8 L746.5,128.5 L742,133 L720.7,129.9 L700.3,117 Z" fill="#f3f3f3" stroke="#e0e0e0" stroke-width="0.9"/>
<path d="M703,85 Q722,80 744,88 L745,128 Q725,128 704,114 Z" fill="#f8f8f8" opacity="0.9"/>
<path d="M705,63 Q706,55 716,53.5 Q728,52.5 732.5,62 Q734,72 728.5,78 Q719,80 711,77.5 Q704.5,73 705,63 Z" fill="#b3d9d9" stroke="#80b8b8" stroke-width="1"/>
<path d="M710,63 Q712,58 718,57.5 Q726,57.5 728,64 Q728,72 722,74 Q714,74 711,70 Z" fill="#c4e3e3" opacity="0.8" filter="url(#bl1)"/>
<line x1="644" y1="61.3" x2="675.3" y2="45.6" stroke="#111" stroke-width="1" />
<line x1="698" y1="48" x2="713.6" y2="61.6" stroke="#111" stroke-width="1" />
<line x1="656.6" y1="96.6" x2="674" y2="99" stroke="#111" stroke-width="1" />
<line x1="698.9" y1="98.9" x2="718.3" y2="99.2" stroke="#111" stroke-width="1" />
<text x="679.24" y="48.10" font-size="11.13" fill="#262626" stroke="#262626" stroke-width="0.1" textLength="18.11" lengthAdjust="spacingAndGlyphs">aob</text>
<text x="676.02" y="101.70" font-size="10.98" fill="#262626" stroke="#262626" stroke-width="0.1" textLength="22.44" lengthAdjust="spacingAndGlyphs">mob</text>
<text x="632.98" y="26.50" font-size="9.89" fill="#262626" stroke="#262626" stroke-width="0.1" textLength="30.44" lengthAdjust="spacingAndGlyphs">AOB-X</text>
<text x="706.42" y="26.70" font-size="11.13" fill="#262626" stroke="#262626" stroke-width="0.1" textLength="35.35" lengthAdjust="spacingAndGlyphs">normal</text>
<rect x="727.6" y="142.2" width="20.4" height="2.6" fill="#000"/>
</svg></body></html>
